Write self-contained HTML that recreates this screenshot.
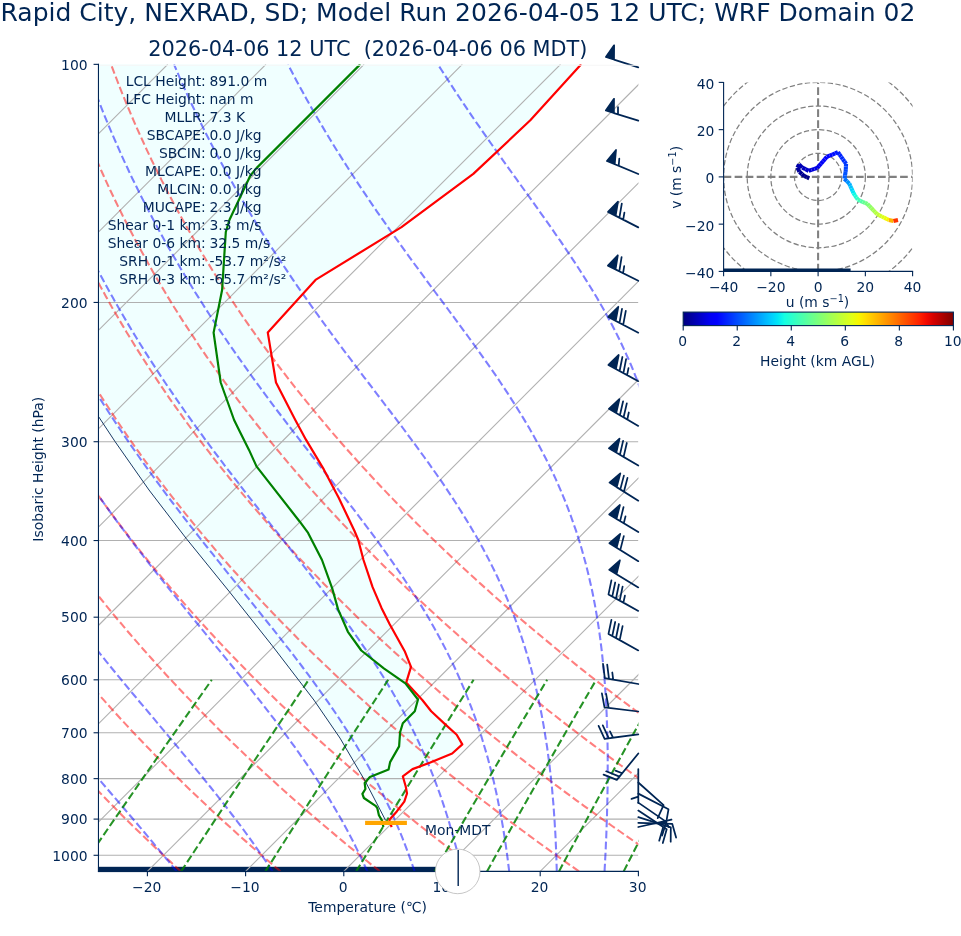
<!DOCTYPE html>
<html><head><meta charset="utf-8"><title>Skew-T Rapid City</title>
<style>
html,body{margin:0;padding:0;background:#fff}
svg{display:block;will-change:transform}
text{font-family:"DejaVu Sans","Liberation Sans",sans-serif;fill:#002554}
.g{stroke:#b0b0b0;stroke-width:1.1;fill:none}
.da{stroke:#ff0000;stroke-opacity:.5;stroke-width:2.08;stroke-dasharray:7.7 3.33;fill:none}
.ma{stroke:#0000ff;stroke-opacity:.5;stroke-width:2.08;stroke-dasharray:7.7 3.33;fill:none}
.mr{stroke:#008000;stroke-opacity:.85;stroke-width:2.08;stroke-dasharray:7.7 3.33;fill:none}
.b{stroke:#002554;stroke-width:1.75;fill:#002554;stroke-linejoin:round}
.tk{stroke:#002554;stroke-width:1.1;fill:none}
.t10{font-size:13.89px}
.ring{stroke:#808080;stroke-width:1.25;stroke-dasharray:5.3 2.4;fill:none}
.cross{stroke:#808080;stroke-width:2.08;stroke-dasharray:7.7 3.33;fill:none}
</style></head><body>
<svg width="961" height="936" viewBox="0 0 961 936">
<rect width="961" height="936" fill="#fff"/>
<defs>
<clipPath id="ax"><rect x="98.46" y="64.35" width="539.94" height="807.05"/></clipPath>
<clipPath id="hx"><rect x="723.6" y="82.4" width="189" height="188.9"/></clipPath>
<linearGradient id="jet" x1="0" x2="1" y1="0" y2="0">
<stop offset="0.000" stop-color="#000080"/>
<stop offset="0.025" stop-color="#00009c"/>
<stop offset="0.050" stop-color="#0000b9"/>
<stop offset="0.075" stop-color="#0000d6"/>
<stop offset="0.100" stop-color="#0000f3"/>
<stop offset="0.125" stop-color="#0000ff"/>
<stop offset="0.150" stop-color="#001aff"/>
<stop offset="0.175" stop-color="#0033ff"/>
<stop offset="0.200" stop-color="#004dff"/>
<stop offset="0.225" stop-color="#0066ff"/>
<stop offset="0.250" stop-color="#0080ff"/>
<stop offset="0.275" stop-color="#0099ff"/>
<stop offset="0.300" stop-color="#00b3ff"/>
<stop offset="0.325" stop-color="#00ccff"/>
<stop offset="0.350" stop-color="#00e6f7"/>
<stop offset="0.375" stop-color="#15ffe2"/>
<stop offset="0.400" stop-color="#29ffce"/>
<stop offset="0.425" stop-color="#3effb9"/>
<stop offset="0.450" stop-color="#52ffa5"/>
<stop offset="0.475" stop-color="#67ff90"/>
<stop offset="0.500" stop-color="#7bff7b"/>
<stop offset="0.525" stop-color="#90ff67"/>
<stop offset="0.550" stop-color="#a5ff52"/>
<stop offset="0.575" stop-color="#b9ff3e"/>
<stop offset="0.600" stop-color="#ceff29"/>
<stop offset="0.625" stop-color="#e2ff15"/>
<stop offset="0.650" stop-color="#f7f600"/>
<stop offset="0.675" stop-color="#ffde00"/>
<stop offset="0.700" stop-color="#ffc600"/>
<stop offset="0.725" stop-color="#ffaf00"/>
<stop offset="0.750" stop-color="#ff9700"/>
<stop offset="0.775" stop-color="#ff8000"/>
<stop offset="0.800" stop-color="#ff6800"/>
<stop offset="0.825" stop-color="#ff5000"/>
<stop offset="0.850" stop-color="#ff3900"/>
<stop offset="0.875" stop-color="#ff2100"/>
<stop offset="0.900" stop-color="#f30900"/>
<stop offset="0.925" stop-color="#d60000"/>
<stop offset="0.950" stop-color="#b90000"/>
<stop offset="0.975" stop-color="#9c0000"/>
<stop offset="1.000" stop-color="#800000"/>
</linearGradient>
</defs>

<rect x="97.96" y="866.8" width="347.5" height="5.3" fill="#002554"/>
<g clip-path="url(#ax)">
<path d="M60.0,64.3 L581.2,64.3 L580.3,65.3 L530.3,120.3 L473.3,173.9 L401.5,227.1 L315.5,279.9 L267.8,332.6 L276.0,382.5 L295.3,420.0 L305.8,439.4 L323.8,469.4 L338.7,497.8 L354.4,530.7 L358.2,539.7 L363.5,560.0 L372.5,586.9 L381.5,607.9 L389.7,624.3 L404.7,651.2 L411.0,666.9 L406.2,682.6 L422.3,700.0 L431.2,711.2 L444.7,723.9 L456.7,734.7 L462.3,744.4 L452.2,753.5 L429.7,762.8 L412.5,769.1 L402.8,776.3 L405.8,786.7 L407.0,793.5 L404.3,801.7 L396.8,811.4 L389.4,819.7 L389.4,819.7 L385.6,820.4 L365.4,781.5 L340.0,738.1 L313.9,700.0 L300.0,681.9 L272.4,645.9 L229.7,592.1 L186.0,538.2 L149.0,490.0 L115.0,441.5 L98.5,416.5 L60.0,380.0Z" fill="#f0ffff"/>
<path d="M98.5,302.45 H638.4" class="g"/>
<path d="M98.5,441.72 H638.4" class="g"/>
<path d="M98.5,540.54 H638.4" class="g"/>
<path d="M98.5,617.19 H638.4" class="g"/>
<path d="M98.5,679.82 H638.4" class="g"/>
<path d="M98.5,732.77 H638.4" class="g"/>
<path d="M98.5,778.64 H638.4" class="g"/>
<path d="M98.5,819.10 H638.4" class="g"/>
<path d="M98.5,855.29 H638.4" class="g"/>
<path d="M-1129.20,871.40 L-323.28,64.35" class="g"/>
<path d="M-1031.00,871.40 L-225.08,64.35" class="g"/>
<path d="M-932.80,871.40 L-126.88,64.35" class="g"/>
<path d="M-834.60,871.40 L-28.68,64.35" class="g"/>
<path d="M-736.40,871.40 L69.52,64.35" class="g"/>
<path d="M-638.20,871.40 L167.72,64.35" class="g"/>
<path d="M-540.00,871.40 L265.92,64.35" class="g"/>
<path d="M-441.80,871.40 L364.12,64.35" class="g"/>
<path d="M-343.60,871.40 L462.32,64.35" class="g"/>
<path d="M-245.40,871.40 L560.52,64.35" class="g"/>
<path d="M-147.20,871.40 L658.72,64.35" class="g"/>
<path d="M-49.00,871.40 L756.92,64.35" class="g"/>
<path d="M49.20,871.40 L855.12,64.35" class="g"/>
<path d="M147.40,871.40 L953.32,64.35" class="g"/>
<path d="M245.60,871.40 L1051.52,64.35" class="g"/>
<path d="M343.80,871.40 L1149.72,64.35" class="g"/>
<path d="M442.00,871.40 L1247.92,64.35" class="g"/>
<path d="M540.20,871.40 L1346.12,64.35" class="g"/>
<path d="M638.40,871.40 L1444.32,64.35" class="g"/>
<path d="M-18.1,871.4 L-22.8,866.4 L-27.4,861.3 L-32.0,856.3 L-36.6,851.2 L-41.1,846.2 L-45.6,841.1 L-50.0,836.1 L-54.4,831.0 L-58.8,826.0 L-63.1,821.0 L-67.4,815.9 L-71.6,810.9 L-75.8,805.8 L-80.0,800.8 L-84.1,795.7 L-88.2,790.7 L-92.2,785.7 L-96.2,780.6 L-100.2,775.6 L-104.1,770.5 L-108.0,765.5 L-111.9,760.4 L-115.7,755.4 L-119.5,750.3 L-123.2,745.3 L-126.9,740.3 L-130.6,735.2 L-134.3,730.2 L-137.9,725.1 L-141.4,720.1 L-144.9,715.0 L-148.4,710.0 L-151.9,704.9 L-155.3,699.9 L-158.7,694.9 L-162.1,689.8 L-165.4,684.8 L-168.7,679.7 L-171.9,674.7 L-175.1,669.6 L-178.3,664.6 L-181.4,659.5 L-184.5,654.5 L-187.6,649.5 L-190.6,644.4 L-193.7,639.4 L-196.6,634.3 L-199.6,629.3 L-202.5,624.2 L-205.3,619.2 L-208.2,614.2 L-211.0,609.1 L-213.8,604.1 L-216.5,599.0 L-219.2,594.0 L-221.9,588.9 L-224.5,583.9 L-227.1,578.8 L-229.7,573.8 L-232.3,568.8 L-234.8,563.7 L-237.3,558.7 L-239.7,553.6 L-242.1,548.6 L-244.5,543.5 L-246.9,538.5 L-249.2,533.4 L-251.5,528.4 L-253.8,523.4 L-256.0,518.3 L-258.2,513.3 L-260.4,508.2 L-262.5,503.2 L-264.7,498.1 L-266.7,493.1 L-268.8,488.1 L-270.8,483.0 L-272.8,478.0 L-274.8,472.9 L-276.7,467.9 L-278.6,462.8 L-280.5,457.8 L-282.4,452.7 L-284.2,447.7 L-286.0,442.7 L-287.7,437.6 L-289.5,432.6 L-291.2,427.5 L-292.9,422.5 L-294.5,417.4 L-296.1,412.4 L-297.7,407.3 L-299.3,402.3 L-300.8,397.3 L-302.3,392.2 L-303.8,387.2 L-305.3,382.1 L-306.7,377.1 L-308.1,372.0 L-309.5,367.0 L-310.8,361.9 L-312.2,356.9 L-313.5,351.9 L-314.7,346.8 L-316.0,341.8 L-317.2,336.7 L-318.4,331.7 L-319.5,326.6 L-320.7,321.6 L-321.8,316.6 L-322.9,311.5 L-323.9,306.5 L-325.0,301.4 L-326.0,296.4 L-327.0,291.3 L-327.9,286.3 L-328.9,281.2 L-329.8,276.2 L-330.7,271.2 L-331.5,266.1 L-332.4,261.1 L-333.2,256.0 L-333.9,251.0 L-334.7,245.9 L-335.4,240.9 L-336.2,235.8 L-336.8,230.8 L-337.5,225.8 L-338.2,220.7 L-338.8,215.7 L-339.4,210.6 L-339.9,205.6 L-340.5,200.5 L-341.0,195.5 L-341.5,190.5 L-342.0,185.4 L-342.4,180.4 L-342.9,175.3 L-343.3,170.3 L-343.7,165.2 L-344.0,160.2 L-344.4,155.1 L-344.7,150.1 L-345.0,145.1 L-345.2,140.0 L-345.5,135.0 L-345.7,129.9 L-345.9,124.9 L-346.1,119.8 L-346.3,114.8 L-346.4,109.7 L-346.5,104.7 L-346.6,99.7 L-346.7,94.6 L-346.8,89.6 L-346.8,84.5 L-346.8,79.5 L-346.8,74.4 L-346.8,69.4 L-346.7,64.4" class="da"/>
<path d="M81.4,871.4 L76.3,866.4 L71.3,861.3 L66.3,856.3 L61.3,851.2 L56.4,846.2 L51.5,841.1 L46.6,836.1 L41.8,831.0 L37.1,826.0 L32.4,821.0 L27.7,815.9 L23.0,810.9 L18.4,805.8 L13.9,800.8 L9.4,795.7 L4.9,790.7 L0.5,785.7 L-3.9,780.6 L-8.3,775.6 L-12.6,770.5 L-16.9,765.5 L-21.1,760.4 L-25.3,755.4 L-29.5,750.3 L-33.6,745.3 L-37.7,740.3 L-41.7,735.2 L-45.8,730.2 L-49.7,725.1 L-53.7,720.1 L-57.6,715.0 L-61.4,710.0 L-65.2,704.9 L-69.0,699.9 L-72.8,694.9 L-76.5,689.8 L-80.2,684.8 L-83.8,679.7 L-87.4,674.7 L-91.0,669.6 L-94.5,664.6 L-98.0,659.5 L-101.4,654.5 L-104.9,649.5 L-108.2,644.4 L-111.6,639.4 L-114.9,634.3 L-118.2,629.3 L-121.4,624.2 L-124.7,619.2 L-127.8,614.2 L-131.0,609.1 L-134.1,604.1 L-137.2,599.0 L-140.2,594.0 L-143.2,588.9 L-146.2,583.9 L-149.1,578.8 L-152.0,573.8 L-154.9,568.8 L-157.7,563.7 L-160.5,558.7 L-163.3,553.6 L-166.1,548.6 L-168.8,543.5 L-171.4,538.5 L-174.1,533.4 L-176.7,528.4 L-179.3,523.4 L-181.8,518.3 L-184.3,513.3 L-186.8,508.2 L-189.3,503.2 L-191.7,498.1 L-194.1,493.1 L-196.4,488.1 L-198.8,483.0 L-201.1,478.0 L-203.3,472.9 L-205.6,467.9 L-207.8,462.8 L-210.0,457.8 L-212.1,452.7 L-214.2,447.7 L-216.3,442.7 L-218.4,437.6 L-220.4,432.6 L-222.4,427.5 L-224.3,422.5 L-226.3,417.4 L-228.2,412.4 L-230.1,407.3 L-231.9,402.3 L-233.7,397.3 L-235.5,392.2 L-237.3,387.2 L-239.0,382.1 L-240.7,377.1 L-242.4,372.0 L-244.1,367.0 L-245.7,361.9 L-247.3,356.9 L-248.9,351.9 L-250.4,346.8 L-251.9,341.8 L-253.4,336.7 L-254.8,331.7 L-256.3,326.6 L-257.7,321.6 L-259.1,316.6 L-260.4,311.5 L-261.7,306.5 L-263.0,301.4 L-264.3,296.4 L-265.5,291.3 L-266.8,286.3 L-267.9,281.2 L-269.1,276.2 L-270.2,271.2 L-271.4,266.1 L-272.4,261.1 L-273.5,256.0 L-274.5,251.0 L-275.6,245.9 L-276.5,240.9 L-277.5,235.8 L-278.4,230.8 L-279.3,225.8 L-280.2,220.7 L-281.1,215.7 L-281.9,210.6 L-282.7,205.6 L-283.5,200.5 L-284.3,195.5 L-285.0,190.5 L-285.7,185.4 L-286.4,180.4 L-287.1,175.3 L-287.7,170.3 L-288.3,165.2 L-288.9,160.2 L-289.5,155.1 L-290.1,150.1 L-290.6,145.1 L-291.1,140.0 L-291.6,135.0 L-292.0,129.9 L-292.4,124.9 L-292.8,119.8 L-293.2,114.8 L-293.6,109.7 L-293.9,104.7 L-294.3,99.7 L-294.5,94.6 L-294.8,89.6 L-295.1,84.5 L-295.3,79.5 L-295.5,74.4 L-295.7,69.4 L-295.9,64.4" class="da"/>
<path d="M180.9,871.4 L175.4,866.4 L170.0,861.3 L164.5,856.3 L159.2,851.2 L153.8,846.2 L148.5,841.1 L143.3,836.1 L138.1,831.0 L132.9,826.0 L127.8,821.0 L122.7,815.9 L117.7,810.9 L112.7,805.8 L107.7,800.8 L102.8,795.7 L98.0,790.7 L93.1,785.7 L88.4,780.6 L83.6,775.6 L78.9,770.5 L74.2,765.5 L69.6,760.4 L65.0,755.4 L60.5,750.3 L56.0,745.3 L51.5,740.3 L47.1,735.2 L42.7,730.2 L38.4,725.1 L34.1,720.1 L29.8,715.0 L25.6,710.0 L21.4,704.9 L17.3,699.9 L13.2,694.9 L9.1,689.8 L5.1,684.8 L1.1,679.7 L-2.9,674.7 L-6.8,669.6 L-10.7,664.6 L-14.5,659.5 L-18.3,654.5 L-22.1,649.5 L-25.8,644.4 L-29.5,639.4 L-33.2,634.3 L-36.8,629.3 L-40.4,624.2 L-44.0,619.2 L-47.5,614.2 L-51.0,609.1 L-54.4,604.1 L-57.8,599.0 L-61.2,594.0 L-64.5,588.9 L-67.8,583.9 L-71.1,578.8 L-74.3,573.8 L-77.5,568.8 L-80.7,563.7 L-83.8,558.7 L-86.9,553.6 L-90.0,548.6 L-93.0,543.5 L-96.0,538.5 L-98.9,533.4 L-101.9,528.4 L-104.8,523.4 L-107.6,518.3 L-110.5,513.3 L-113.2,508.2 L-116.0,503.2 L-118.7,498.1 L-121.4,493.1 L-124.1,488.1 L-126.7,483.0 L-129.3,478.0 L-131.9,472.9 L-134.4,467.9 L-136.9,462.8 L-139.4,457.8 L-141.8,452.7 L-144.3,447.7 L-146.6,442.7 L-149.0,437.6 L-151.3,432.6 L-153.6,427.5 L-155.8,422.5 L-158.1,417.4 L-160.2,412.4 L-162.4,407.3 L-164.5,402.3 L-166.6,397.3 L-168.7,392.2 L-170.8,387.2 L-172.8,382.1 L-174.8,377.1 L-176.7,372.0 L-178.6,367.0 L-180.5,361.9 L-182.4,356.9 L-184.2,351.9 L-186.1,346.8 L-187.8,341.8 L-189.6,336.7 L-191.3,331.7 L-193.0,326.6 L-194.7,321.6 L-196.3,316.6 L-197.9,311.5 L-199.5,306.5 L-201.1,301.4 L-202.6,296.4 L-204.1,291.3 L-205.6,286.3 L-207.0,281.2 L-208.4,276.2 L-209.8,271.2 L-211.2,266.1 L-212.5,261.1 L-213.9,256.0 L-215.1,251.0 L-216.4,245.9 L-217.6,240.9 L-218.8,235.8 L-220.0,230.8 L-221.2,225.8 L-222.3,220.7 L-223.4,215.7 L-224.5,210.6 L-225.5,205.6 L-226.6,200.5 L-227.6,195.5 L-228.5,190.5 L-229.5,185.4 L-230.4,180.4 L-231.3,175.3 L-232.2,170.3 L-233.0,165.2 L-233.9,160.2 L-234.7,155.1 L-235.4,150.1 L-236.2,145.1 L-236.9,140.0 L-237.6,135.0 L-238.3,129.9 L-238.9,124.9 L-239.6,119.8 L-240.2,114.8 L-240.8,109.7 L-241.3,104.7 L-241.9,99.7 L-242.4,94.6 L-242.9,89.6 L-243.3,84.5 L-243.8,79.5 L-244.2,74.4 L-244.6,69.4 L-245.0,64.4" class="da"/>
<path d="M280.5,871.4 L274.5,866.4 L268.7,861.3 L262.8,856.3 L257.0,851.2 L251.3,846.2 L245.6,841.1 L239.9,836.1 L234.3,831.0 L228.8,826.0 L223.2,821.0 L217.8,815.9 L212.3,810.9 L206.9,805.8 L201.6,800.8 L196.3,795.7 L191.0,790.7 L185.8,785.7 L180.6,780.6 L175.5,775.6 L170.4,770.5 L165.4,765.5 L160.4,760.4 L155.4,755.4 L150.5,750.3 L145.6,745.3 L140.8,740.3 L136.0,735.2 L131.2,730.2 L126.5,725.1 L121.8,720.1 L117.2,715.0 L112.6,710.0 L108.1,704.9 L103.6,699.9 L99.1,694.9 L94.7,689.8 L90.3,684.8 L85.9,679.7 L81.6,674.7 L77.3,669.6 L73.1,664.6 L68.9,659.5 L64.8,654.5 L60.6,649.5 L56.6,644.4 L52.5,639.4 L48.5,634.3 L44.5,629.3 L40.6,624.2 L36.7,619.2 L32.9,614.2 L29.1,609.1 L25.3,604.1 L21.5,599.0 L17.8,594.0 L14.2,588.9 L10.5,583.9 L6.9,578.8 L3.4,573.8 L-0.1,568.8 L-3.6,563.7 L-7.1,558.7 L-10.5,553.6 L-13.9,548.6 L-17.2,543.5 L-20.5,538.5 L-23.8,533.4 L-27.0,528.4 L-30.3,523.4 L-33.4,518.3 L-36.6,513.3 L-39.7,508.2 L-42.7,503.2 L-45.8,498.1 L-48.8,493.1 L-51.7,488.1 L-54.7,483.0 L-57.6,478.0 L-60.4,472.9 L-63.3,467.9 L-66.1,462.8 L-68.8,457.8 L-71.6,452.7 L-74.3,447.7 L-77.0,442.7 L-79.6,437.6 L-82.2,432.6 L-84.8,427.5 L-87.3,422.5 L-89.8,417.4 L-92.3,412.4 L-94.8,407.3 L-97.2,402.3 L-99.6,397.3 L-101.9,392.2 L-104.2,387.2 L-106.5,382.1 L-108.8,377.1 L-111.0,372.0 L-113.2,367.0 L-115.4,361.9 L-117.5,356.9 L-119.6,351.9 L-121.7,346.8 L-123.8,341.8 L-125.8,336.7 L-127.8,331.7 L-129.7,326.6 L-131.7,321.6 L-133.6,316.6 L-135.5,311.5 L-137.3,306.5 L-139.1,301.4 L-140.9,296.4 L-142.7,291.3 L-144.4,286.3 L-146.1,281.2 L-147.8,276.2 L-149.4,271.2 L-151.0,266.1 L-152.6,261.1 L-154.2,256.0 L-155.7,251.0 L-157.2,245.9 L-158.7,240.9 L-160.2,235.8 L-161.6,230.8 L-163.0,225.8 L-164.4,220.7 L-165.7,215.7 L-167.0,210.6 L-168.3,205.6 L-169.6,200.5 L-170.8,195.5 L-172.0,190.5 L-173.2,185.4 L-174.4,180.4 L-175.5,175.3 L-176.6,170.3 L-177.7,165.2 L-178.8,160.2 L-179.8,155.1 L-180.8,150.1 L-181.8,145.1 L-182.7,140.0 L-183.7,135.0 L-184.6,129.9 L-185.5,124.9 L-186.3,119.8 L-187.1,114.8 L-188.0,109.7 L-188.7,104.7 L-189.5,99.7 L-190.2,94.6 L-190.9,89.6 L-191.6,84.5 L-192.3,79.5 L-192.9,74.4 L-193.5,69.4 L-194.1,64.4" class="da"/>
<path d="M380.0,871.4 L373.6,866.4 L367.3,861.3 L361.1,856.3 L354.9,851.2 L348.7,846.2 L342.6,841.1 L336.6,836.1 L330.6,831.0 L324.6,826.0 L318.7,821.0 L312.8,815.9 L307.0,810.9 L301.2,805.8 L295.4,800.8 L289.7,795.7 L284.1,790.7 L278.5,785.7 L272.9,780.6 L267.4,775.6 L261.9,770.5 L256.5,765.5 L251.1,760.4 L245.8,755.4 L240.5,750.3 L235.2,745.3 L230.0,740.3 L224.9,735.2 L219.7,730.2 L214.6,725.1 L209.6,720.1 L204.6,715.0 L199.6,710.0 L194.7,704.9 L189.9,699.9 L185.0,694.9 L180.2,689.8 L175.5,684.8 L170.8,679.7 L166.1,674.7 L161.5,669.6 L156.9,664.6 L152.4,659.5 L147.9,654.5 L143.4,649.5 L139.0,644.4 L134.6,639.4 L130.2,634.3 L125.9,629.3 L121.7,624.2 L117.4,619.2 L113.2,614.2 L109.1,609.1 L105.0,604.1 L100.9,599.0 L96.9,594.0 L92.9,588.9 L88.9,583.9 L85.0,578.8 L81.1,573.8 L77.2,568.8 L73.4,563.7 L69.7,558.7 L65.9,553.6 L62.2,548.6 L58.5,543.5 L54.9,538.5 L51.3,533.4 L47.8,528.4 L44.3,523.4 L40.8,518.3 L37.3,513.3 L33.9,508.2 L30.5,503.2 L27.2,498.1 L23.9,493.1 L20.6,488.1 L17.4,483.0 L14.2,478.0 L11.0,472.9 L7.9,467.9 L4.8,462.8 L1.7,457.8 L-1.3,452.7 L-4.3,447.7 L-7.3,442.7 L-10.2,437.6 L-13.1,432.6 L-16.0,427.5 L-18.8,422.5 L-21.6,417.4 L-24.4,412.4 L-27.1,407.3 L-29.8,402.3 L-32.5,397.3 L-35.1,392.2 L-37.7,387.2 L-40.3,382.1 L-42.8,377.1 L-45.3,372.0 L-47.8,367.0 L-50.2,361.9 L-52.7,356.9 L-55.0,351.9 L-57.4,346.8 L-59.7,341.8 L-62.0,336.7 L-64.3,331.7 L-66.5,326.6 L-68.7,321.6 L-70.9,316.6 L-73.0,311.5 L-75.1,306.5 L-77.2,301.4 L-79.2,296.4 L-81.2,291.3 L-83.2,286.3 L-85.2,281.2 L-87.1,276.2 L-89.0,271.2 L-90.9,266.1 L-92.7,261.1 L-94.5,256.0 L-96.3,251.0 L-98.1,245.9 L-99.8,240.9 L-101.5,235.8 L-103.2,230.8 L-104.8,225.8 L-106.4,220.7 L-108.0,215.7 L-109.6,210.6 L-111.1,205.6 L-112.6,200.5 L-114.1,195.5 L-115.5,190.5 L-117.0,185.4 L-118.4,180.4 L-119.7,175.3 L-121.1,170.3 L-122.4,165.2 L-123.7,160.2 L-124.9,155.1 L-126.2,150.1 L-127.4,145.1 L-128.6,140.0 L-129.7,135.0 L-130.9,129.9 L-132.0,124.9 L-133.0,119.8 L-134.1,114.8 L-135.1,109.7 L-136.1,104.7 L-137.1,99.7 L-138.1,94.6 L-139.0,89.6 L-139.9,84.5 L-140.8,79.5 L-141.6,74.4 L-142.5,69.4 L-143.3,64.4" class="da"/>
<path d="M479.5,871.4 L472.8,866.4 L466.0,861.3 L459.4,856.3 L452.8,851.2 L446.2,846.2 L439.7,841.1 L433.2,836.1 L426.8,831.0 L420.4,826.0 L414.1,821.0 L407.8,815.9 L401.6,810.9 L395.4,805.8 L389.3,800.8 L383.2,795.7 L377.2,790.7 L371.2,785.7 L365.2,780.6 L359.3,775.6 L353.4,770.5 L347.6,765.5 L341.9,760.4 L336.2,755.4 L330.5,750.3 L324.8,745.3 L319.3,740.3 L313.7,735.2 L308.2,730.2 L302.8,725.1 L297.4,720.1 L292.0,715.0 L286.7,710.0 L281.4,704.9 L276.2,699.9 L271.0,694.9 L265.8,689.8 L260.7,684.8 L255.6,679.7 L250.6,674.7 L245.6,669.6 L240.7,664.6 L235.8,659.5 L231.0,654.5 L226.1,649.5 L221.4,644.4 L216.6,639.4 L211.9,634.3 L207.3,629.3 L202.7,624.2 L198.1,619.2 L193.6,614.2 L189.1,609.1 L184.7,604.1 L180.2,599.0 L175.9,594.0 L171.5,588.9 L167.3,583.9 L163.0,578.8 L158.8,573.8 L154.6,568.8 L150.5,563.7 L146.4,558.7 L142.3,553.6 L138.3,548.6 L134.3,543.5 L130.4,538.5 L126.5,533.4 L122.6,528.4 L118.8,523.4 L115.0,518.3 L111.2,513.3 L107.5,508.2 L103.8,503.2 L100.2,498.1 L96.5,493.1 L93.0,488.1 L89.4,483.0 L85.9,478.0 L82.5,472.9 L79.0,467.9 L75.6,462.8 L72.3,457.8 L68.9,452.7 L65.6,447.7 L62.4,442.7 L59.2,437.6 L56.0,432.6 L52.8,427.5 L49.7,422.5 L46.6,417.4 L43.6,412.4 L40.6,407.3 L37.6,402.3 L34.6,397.3 L31.7,392.2 L28.8,387.2 L26.0,382.1 L23.2,377.1 L20.4,372.0 L17.6,367.0 L14.9,361.9 L12.2,356.9 L9.6,351.9 L6.9,346.8 L4.4,341.8 L1.8,336.7 L-0.7,331.7 L-3.2,326.6 L-5.7,321.6 L-8.1,316.6 L-10.5,311.5 L-12.9,306.5 L-15.2,301.4 L-17.5,296.4 L-19.8,291.3 L-22.0,286.3 L-24.3,281.2 L-26.4,276.2 L-28.6,271.2 L-30.7,266.1 L-32.8,261.1 L-34.9,256.0 L-36.9,251.0 L-38.9,245.9 L-40.9,240.9 L-42.8,235.8 L-44.8,230.8 L-46.7,225.8 L-48.5,220.7 L-50.3,215.7 L-52.1,210.6 L-53.9,205.6 L-55.7,200.5 L-57.4,195.5 L-59.1,190.5 L-60.7,185.4 L-62.4,180.4 L-64.0,175.3 L-65.5,170.3 L-67.1,165.2 L-68.6,160.2 L-70.1,155.1 L-71.6,150.1 L-73.0,145.1 L-74.4,140.0 L-75.8,135.0 L-77.1,129.9 L-78.5,124.9 L-79.8,119.8 L-81.1,114.8 L-82.3,109.7 L-83.5,104.7 L-84.7,99.7 L-85.9,94.6 L-87.1,89.6 L-88.2,84.5 L-89.3,79.5 L-90.3,74.4 L-91.4,69.4 L-92.4,64.4" class="da"/>
<path d="M579.0,871.4 L571.9,866.4 L564.7,861.3 L557.7,856.3 L550.6,851.2 L543.7,846.2 L536.7,841.1 L529.9,836.1 L523.0,831.0 L516.3,826.0 L509.5,821.0 L502.9,815.9 L496.2,810.9 L489.7,805.8 L483.1,800.8 L476.6,795.7 L470.2,790.7 L463.8,785.7 L457.5,780.6 L451.2,775.6 L445.0,770.5 L438.8,765.5 L432.6,760.4 L426.5,755.4 L420.5,750.3 L414.5,745.3 L408.5,740.3 L402.6,735.2 L396.7,730.2 L390.9,725.1 L385.1,720.1 L379.4,715.0 L373.7,710.0 L368.0,704.9 L362.5,699.9 L356.9,694.9 L351.4,689.8 L345.9,684.8 L340.5,679.7 L335.1,674.7 L329.8,669.6 L324.5,664.6 L319.3,659.5 L314.0,654.5 L308.9,649.5 L303.8,644.4 L298.7,639.4 L293.7,634.3 L288.7,629.3 L283.7,624.2 L278.8,619.2 L273.9,614.2 L269.1,609.1 L264.3,604.1 L259.6,599.0 L254.9,594.0 L250.2,588.9 L245.6,583.9 L241.0,578.8 L236.5,573.8 L232.0,568.8 L227.5,563.7 L223.1,558.7 L218.7,553.6 L214.4,548.6 L210.1,543.5 L205.8,538.5 L201.6,533.4 L197.4,528.4 L193.3,523.4 L189.2,518.3 L185.1,513.3 L181.1,508.2 L177.1,503.2 L173.1,498.1 L169.2,493.1 L165.3,488.1 L161.5,483.0 L157.7,478.0 L153.9,472.9 L150.2,467.9 L146.5,462.8 L142.8,457.8 L139.2,452.7 L135.6,447.7 L132.1,442.7 L128.5,437.6 L125.1,432.6 L121.6,427.5 L118.2,422.5 L114.8,417.4 L111.5,412.4 L108.2,407.3 L104.9,402.3 L101.7,397.3 L98.5,392.2 L95.4,387.2 L92.2,382.1 L89.1,377.1 L86.1,372.0 L83.0,367.0 L80.1,361.9 L77.1,356.9 L74.2,351.9 L71.3,346.8 L68.4,341.8 L65.6,336.7 L62.8,331.7 L60.0,326.6 L57.3,321.6 L54.6,316.6 L52.0,311.5 L49.3,306.5 L46.7,301.4 L44.2,296.4 L41.6,291.3 L39.1,286.3 L36.7,281.2 L34.2,276.2 L31.8,271.2 L29.4,266.1 L27.1,261.1 L24.8,256.0 L22.5,251.0 L20.2,245.9 L18.0,240.9 L15.8,235.8 L13.7,230.8 L11.5,225.8 L9.4,220.7 L7.3,215.7 L5.3,210.6 L3.3,205.6 L1.3,200.5 L-0.6,195.5 L-2.6,190.5 L-4.5,185.4 L-6.3,180.4 L-8.2,175.3 L-10.0,170.3 L-11.8,165.2 L-13.5,160.2 L-15.2,155.1 L-16.9,150.1 L-18.6,145.1 L-20.2,140.0 L-21.8,135.0 L-23.4,129.9 L-25.0,124.9 L-26.5,119.8 L-28.0,114.8 L-29.5,109.7 L-30.9,104.7 L-32.4,99.7 L-33.7,94.6 L-35.1,89.6 L-36.4,84.5 L-37.8,79.5 L-39.0,74.4 L-40.3,69.4 L-41.5,64.4" class="da"/>
<path d="M678.6,871.4 L671.0,866.4 L663.4,861.3 L655.9,856.3 L648.5,851.2 L641.1,846.2 L633.8,841.1 L626.5,836.1 L619.3,831.0 L612.1,826.0 L605.0,821.0 L597.9,815.9 L590.9,810.9 L583.9,805.8 L577.0,800.8 L570.1,795.7 L563.3,790.7 L556.5,785.7 L549.8,780.6 L543.1,775.6 L536.5,770.5 L529.9,765.5 L523.4,760.4 L516.9,755.4 L510.5,750.3 L504.1,745.3 L497.7,740.3 L491.4,735.2 L485.2,730.2 L479.0,725.1 L472.9,720.1 L466.8,715.0 L460.7,710.0 L454.7,704.9 L448.7,699.9 L442.8,694.9 L437.0,689.8 L431.1,684.8 L425.4,679.7 L419.6,674.7 L413.9,669.6 L408.3,664.6 L402.7,659.5 L397.1,654.5 L391.6,649.5 L386.2,644.4 L380.7,639.4 L375.4,634.3 L370.0,629.3 L364.7,624.2 L359.5,619.2 L354.3,614.2 L349.1,609.1 L344.0,604.1 L338.9,599.0 L333.9,594.0 L328.9,588.9 L324.0,583.9 L319.1,578.8 L314.2,573.8 L309.4,568.8 L304.6,563.7 L299.8,558.7 L295.1,553.6 L290.5,548.6 L285.9,543.5 L281.3,538.5 L276.7,533.4 L272.2,528.4 L267.8,523.4 L263.4,518.3 L259.0,513.3 L254.6,508.2 L250.3,503.2 L246.1,498.1 L241.9,493.1 L237.7,488.1 L233.5,483.0 L229.4,478.0 L225.4,472.9 L221.3,467.9 L217.3,462.8 L213.4,457.8 L209.5,452.7 L205.6,447.7 L201.7,442.7 L197.9,437.6 L194.2,432.6 L190.4,427.5 L186.7,422.5 L183.1,417.4 L179.5,412.4 L175.9,407.3 L172.3,402.3 L168.8,397.3 L165.3,392.2 L161.9,387.2 L158.5,382.1 L155.1,377.1 L151.8,372.0 L148.5,367.0 L145.2,361.9 L142.0,356.9 L138.8,351.9 L135.6,346.8 L132.5,341.8 L129.4,336.7 L126.3,331.7 L123.3,326.6 L120.3,321.6 L117.4,316.6 L114.4,311.5 L111.5,306.5 L108.7,301.4 L105.9,296.4 L103.1,291.3 L100.3,286.3 L97.6,281.2 L94.9,276.2 L92.2,271.2 L89.6,266.1 L87.0,261.1 L84.4,256.0 L81.9,251.0 L79.4,245.9 L76.9,240.9 L74.5,235.8 L72.1,230.8 L69.7,225.8 L67.3,220.7 L65.0,215.7 L62.7,210.6 L60.5,205.6 L58.3,200.5 L56.1,195.5 L53.9,190.5 L51.8,185.4 L49.7,180.4 L47.6,175.3 L45.6,170.3 L43.6,165.2 L41.6,160.2 L39.6,155.1 L37.7,150.1 L35.8,145.1 L33.9,140.0 L32.1,135.0 L30.3,129.9 L28.5,124.9 L26.8,119.8 L25.0,114.8 L23.3,109.7 L21.7,104.7 L20.0,99.7 L18.4,94.6 L16.8,89.6 L15.3,84.5 L13.8,79.5 L12.3,74.4 L10.8,69.4 L9.3,64.4" class="da"/>
<path d="M778.1,871.4 L770.1,866.4 L762.1,861.3 L754.2,856.3 L746.4,851.2 L738.6,846.2 L730.8,841.1 L723.2,836.1 L715.5,831.0 L707.9,826.0 L700.4,821.0 L692.9,815.9 L685.5,810.9 L678.1,805.8 L670.8,800.8 L663.6,795.7 L656.3,790.7 L649.2,785.7 L642.1,780.6 L635.0,775.6 L628.0,770.5 L621.0,765.5 L614.1,760.4 L607.3,755.4 L600.5,750.3 L593.7,745.3 L587.0,740.3 L580.3,735.2 L573.7,730.2 L567.1,725.1 L560.6,720.1 L554.2,715.0 L547.7,710.0 L541.4,704.9 L535.0,699.9 L528.8,694.9 L522.5,689.8 L516.4,684.8 L510.2,679.7 L504.1,674.7 L498.1,669.6 L492.1,664.6 L486.1,659.5 L480.2,654.5 L474.4,649.5 L468.6,644.4 L462.8,639.4 L457.1,634.3 L451.4,629.3 L445.8,624.2 L440.2,619.2 L434.7,614.2 L429.2,609.1 L423.7,604.1 L418.3,599.0 L412.9,594.0 L407.6,588.9 L402.3,583.9 L397.1,578.8 L391.9,573.8 L386.7,568.8 L381.6,563.7 L376.6,558.7 L371.6,553.6 L366.6,548.6 L361.6,543.5 L356.7,538.5 L351.9,533.4 L347.1,528.4 L342.3,523.4 L337.6,518.3 L332.9,513.3 L328.2,508.2 L323.6,503.2 L319.0,498.1 L314.5,493.1 L310.0,488.1 L305.6,483.0 L301.2,478.0 L296.8,472.9 L292.5,467.9 L288.2,462.8 L283.9,457.8 L279.7,452.7 L275.5,447.7 L271.4,442.7 L267.3,437.6 L263.3,432.6 L259.2,427.5 L255.2,422.5 L251.3,417.4 L247.4,412.4 L243.5,407.3 L239.7,402.3 L235.9,397.3 L232.1,392.2 L228.4,387.2 L224.7,382.1 L221.1,377.1 L217.5,372.0 L213.9,367.0 L210.4,361.9 L206.8,356.9 L203.4,351.9 L199.9,346.8 L196.6,341.8 L193.2,336.7 L189.9,331.7 L186.6,326.6 L183.3,321.6 L180.1,316.6 L176.9,311.5 L173.7,306.5 L170.6,301.4 L167.5,296.4 L164.5,291.3 L161.5,286.3 L158.5,281.2 L155.5,276.2 L152.6,271.2 L149.7,266.1 L146.9,261.1 L144.1,256.0 L141.3,251.0 L138.5,245.9 L135.8,240.9 L133.1,235.8 L130.5,230.8 L127.9,225.8 L125.3,220.7 L122.7,215.7 L120.2,210.6 L117.7,205.6 L115.2,200.5 L112.8,195.5 L110.4,190.5 L108.0,185.4 L105.7,180.4 L103.4,175.3 L101.1,170.3 L98.9,165.2 L96.7,160.2 L94.5,155.1 L92.3,150.1 L90.2,145.1 L88.1,140.0 L86.0,135.0 L84.0,129.9 L82.0,124.9 L80.0,119.8 L78.1,114.8 L76.2,109.7 L74.3,104.7 L72.4,99.7 L70.6,94.6 L68.8,89.6 L67.0,84.5 L65.3,79.5 L63.5,74.4 L61.9,69.4 L60.2,64.4" class="da"/>
<path d="M877.6,871.4 L869.2,866.4 L860.8,861.3 L852.5,856.3 L844.2,851.2 L836.0,846.2 L827.9,841.1 L819.8,836.1 L811.8,831.0 L803.8,826.0 L795.8,821.0 L788.0,815.9 L780.2,810.9 L772.4,805.8 L764.7,800.8 L757.0,795.7 L749.4,790.7 L741.9,785.7 L734.4,780.6 L726.9,775.6 L719.5,770.5 L712.2,765.5 L704.9,760.4 L697.6,755.4 L690.4,750.3 L683.3,745.3 L676.2,740.3 L669.2,735.2 L662.2,730.2 L655.3,725.1 L648.4,720.1 L641.5,715.0 L634.8,710.0 L628.0,704.9 L621.3,699.9 L614.7,694.9 L608.1,689.8 L601.6,684.8 L595.1,679.7 L588.6,674.7 L582.2,669.6 L575.9,664.6 L569.6,659.5 L563.3,654.5 L557.1,649.5 L551.0,644.4 L544.9,639.4 L538.8,634.3 L532.8,629.3 L526.8,624.2 L520.9,619.2 L515.0,614.2 L509.2,609.1 L503.4,604.1 L497.6,599.0 L491.9,594.0 L486.3,588.9 L480.7,583.9 L475.1,578.8 L469.6,573.8 L464.1,568.8 L458.7,563.7 L453.3,558.7 L448.0,553.6 L442.7,548.6 L437.4,543.5 L432.2,538.5 L427.0,533.4 L421.9,528.4 L416.8,523.4 L411.8,518.3 L406.8,513.3 L401.8,508.2 L396.9,503.2 L392.0,498.1 L387.2,493.1 L382.4,488.1 L377.6,483.0 L372.9,478.0 L368.3,472.9 L363.6,467.9 L359.0,462.8 L354.5,457.8 L350.0,452.7 L345.5,447.7 L341.1,442.7 L336.7,437.6 L332.3,432.6 L328.0,427.5 L323.8,422.5 L319.5,417.4 L315.3,412.4 L311.2,407.3 L307.1,402.3 L303.0,397.3 L298.9,392.2 L294.9,387.2 L291.0,382.1 L287.1,377.1 L283.2,372.0 L279.3,367.0 L275.5,361.9 L271.7,356.9 L268.0,351.9 L264.3,346.8 L260.6,341.8 L257.0,336.7 L253.4,331.7 L249.8,326.6 L246.3,321.6 L242.8,316.6 L239.4,311.5 L236.0,306.5 L232.6,301.4 L229.2,296.4 L225.9,291.3 L222.7,286.3 L219.4,281.2 L216.2,276.2 L213.0,271.2 L209.9,266.1 L206.8,261.1 L203.7,256.0 L200.7,251.0 L197.7,245.9 L194.7,240.9 L191.8,235.8 L188.9,230.8 L186.0,225.8 L183.2,220.7 L180.4,215.7 L177.6,210.6 L174.9,205.6 L172.2,200.5 L169.5,195.5 L166.9,190.5 L164.3,185.4 L161.7,180.4 L159.2,175.3 L156.7,170.3 L154.2,165.2 L151.7,160.2 L149.3,155.1 L146.9,150.1 L144.6,145.1 L142.3,140.0 L140.0,135.0 L137.7,129.9 L135.5,124.9 L133.3,119.8 L131.1,114.8 L129.0,109.7 L126.9,104.7 L124.8,99.7 L122.7,94.6 L120.7,89.6 L118.7,84.5 L116.8,79.5 L114.8,74.4 L112.9,69.4 L111.1,64.4" class="da"/>
<path d="M-19.0,871.4 L-21.8,868.2 L-24.6,865.0 L-27.4,861.7 L-30.1,858.5 L-32.9,855.3 L-37.8,849.6 L-42.6,843.9 L-47.5,838.2 L-52.2,832.5 L-57.0,826.8 L-61.7,821.1 L-66.4,815.5 L-71.1,809.8 L-75.7,804.1 L-80.2,798.4 L-84.8,792.7 L-89.3,787.0 L-93.7,781.3 L-98.2,775.6 L-102.5,769.9 L-106.9,764.2 L-111.2,758.6 L-115.4,752.9 L-119.6,747.2 L-123.8,741.5 L-127.9,735.8 L-132.0,730.1 L-136.1,724.4 L-140.1,718.7 L-144.0,713.0 L-147.9,707.3 L-151.8,701.7 L-155.6,696.0 L-159.4,690.3 L-163.1,684.6 L-166.8,678.9 L-170.5,673.2 L-174.1,667.5 L-177.7,661.8 L-181.2,656.1 L-184.7,650.4 L-188.1,644.8 L-191.5,639.1 L-194.9,633.4 L-198.2,627.7 L-201.5,622.0 L-204.7,616.3 L-207.9,610.6 L-211.0,604.9 L-214.1,599.2 L-217.2,593.5 L-220.2,587.8 L-223.2,582.2 L-226.1,576.5 L-229.0,570.8 L-231.9,565.1 L-234.7,559.4 L-237.5,553.7 L-240.2,548.0 L-242.9,542.3 L-245.6,536.6 L-248.2,530.9 L-250.8,525.3 L-253.3,519.6 L-255.8,513.9 L-258.3,508.2 L-260.7,502.5 L-263.1,496.8 L-265.5,491.1 L-267.8,485.4 L-270.1,479.7 L-272.3,474.0 L-274.5,468.4 L-276.7,462.7 L-278.8,457.0 L-280.9,451.3 L-282.9,445.6 L-284.9,439.9 L-286.9,434.2 L-288.9,428.5 L-290.8,422.8 L-292.6,417.1 L-294.5,411.5 L-296.3,405.8 L-298.0,400.1 L-299.8,394.4 L-301.5,388.7 L-303.1,383.0 L-304.8,377.3 L-306.3,371.6 L-307.9,365.9 L-309.4,360.2 L-310.9,354.6 L-312.4,348.9 L-313.8,343.2 L-315.2,337.5 L-316.5,331.8 L-317.9,326.1 L-319.1,320.4 L-320.4,314.7 L-321.6,309.0 L-322.8,303.3 L-324.0,297.6 L-325.1,292.0 L-326.2,286.3 L-327.2,280.6 L-328.3,274.9 L-329.3,269.2 L-330.2,263.5 L-331.2,257.8 L-332.1,252.1 L-332.9,246.4 L-333.8,240.7 L-334.6,235.1 L-335.4,229.4 L-336.1,223.7 L-336.8,218.0 L-337.5,212.3 L-338.2,206.6 L-338.8,200.9 L-339.4,195.2 L-340.0,189.5 L-340.5,183.8 L-341.0,178.2 L-341.5,172.5 L-342.0,166.8 L-342.4,161.1 L-342.8,155.4 L-343.1,149.7 L-343.5,144.0 L-343.8,138.3 L-344.1,132.6 L-344.3,126.9 L-344.5,121.3 L-344.7,115.6 L-344.9,109.9 L-345.0,104.2 L-345.2,98.5 L-345.2,92.8 L-345.3,87.1 L-345.3,81.4 L-345.3,75.7 L-345.3,70.0 L-345.3,64.4" class="ma"/>
<path d="M79.4,871.4 L76.6,868.2 L73.7,865.0 L70.9,861.7 L68.1,858.5 L65.3,855.3 L60.3,849.6 L55.3,843.9 L50.4,838.2 L45.4,832.5 L40.5,826.8 L35.6,821.1 L30.7,815.5 L25.8,809.8 L20.9,804.1 L16.1,798.4 L11.2,792.7 L6.5,787.0 L1.7,781.3 L-3.0,775.6 L-7.8,769.9 L-12.4,764.2 L-17.1,758.6 L-21.7,752.9 L-26.2,747.2 L-30.8,741.5 L-35.3,735.8 L-39.7,730.1 L-44.1,724.4 L-48.5,718.7 L-52.9,713.0 L-57.2,707.3 L-61.4,701.7 L-65.6,696.0 L-69.8,690.3 L-73.9,684.6 L-78.0,678.9 L-82.1,673.2 L-86.1,667.5 L-90.0,661.8 L-94.0,656.1 L-97.8,650.4 L-101.7,644.8 L-105.5,639.1 L-109.2,633.4 L-112.9,627.7 L-116.6,622.0 L-120.2,616.3 L-123.8,610.6 L-127.3,604.9 L-130.8,599.2 L-134.3,593.5 L-137.7,587.8 L-141.1,582.2 L-144.4,576.5 L-147.7,570.8 L-150.9,565.1 L-154.1,559.4 L-157.3,553.7 L-160.4,548.0 L-163.5,542.3 L-166.5,536.6 L-169.5,530.9 L-172.4,525.3 L-175.3,519.6 L-178.2,513.9 L-181.0,508.2 L-183.8,502.5 L-186.6,496.8 L-189.3,491.1 L-192.0,485.4 L-194.6,479.7 L-197.2,474.0 L-199.8,468.4 L-202.3,462.7 L-204.7,457.0 L-207.2,451.3 L-209.6,445.6 L-211.9,439.9 L-214.3,434.2 L-216.6,428.5 L-218.8,422.8 L-221.0,417.1 L-223.2,411.5 L-225.3,405.8 L-227.4,400.1 L-229.5,394.4 L-231.5,388.7 L-233.5,383.0 L-235.5,377.3 L-237.4,371.6 L-239.3,365.9 L-241.1,360.2 L-242.9,354.6 L-244.7,348.9 L-246.4,343.2 L-248.1,337.5 L-249.8,331.8 L-251.4,326.1 L-253.0,320.4 L-254.6,314.7 L-256.1,309.0 L-257.6,303.3 L-259.1,297.6 L-260.5,292.0 L-261.9,286.3 L-263.3,280.6 L-264.6,274.9 L-265.9,269.2 L-267.2,263.5 L-268.4,257.8 L-269.6,252.1 L-270.8,246.4 L-271.9,240.7 L-273.0,235.1 L-274.1,229.4 L-275.1,223.7 L-276.1,218.0 L-277.1,212.3 L-278.1,206.6 L-279.0,200.9 L-279.9,195.2 L-280.7,189.5 L-281.5,183.8 L-282.3,178.2 L-283.1,172.5 L-283.8,166.8 L-284.5,161.1 L-285.2,155.4 L-285.8,149.7 L-286.4,144.0 L-287.0,138.3 L-287.5,132.6 L-288.0,126.9 L-288.5,121.3 L-289.0,115.6 L-289.4,109.9 L-289.8,104.2 L-290.2,98.5 L-290.6,92.8 L-290.9,87.1 L-291.2,81.4 L-291.4,75.7 L-291.6,70.0 L-291.9,64.4" class="ma"/>
<path d="M176.6,871.4 L174.0,868.2 L171.4,865.0 L168.8,861.7 L166.1,858.5 L163.5,855.3 L158.8,849.6 L154.0,843.9 L149.3,838.2 L144.5,832.5 L139.7,826.8 L134.8,821.1 L130.0,815.5 L125.1,809.8 L120.3,804.1 L115.4,798.4 L110.5,792.7 L105.6,787.0 L100.8,781.3 L95.9,775.6 L91.0,769.9 L86.2,764.2 L81.3,758.6 L76.5,752.9 L71.7,747.2 L66.9,741.5 L62.2,735.8 L57.4,730.1 L52.7,724.4 L48.0,718.7 L43.4,713.0 L38.7,707.3 L34.1,701.7 L29.6,696.0 L25.1,690.3 L20.6,684.6 L16.1,678.9 L11.7,673.2 L7.3,667.5 L3.0,661.8 L-1.3,656.1 L-5.6,650.4 L-9.8,644.8 L-14.0,639.1 L-18.2,633.4 L-22.3,627.7 L-26.3,622.0 L-30.4,616.3 L-34.3,610.6 L-38.3,604.9 L-42.2,599.2 L-46.0,593.5 L-49.8,587.8 L-53.6,582.2 L-57.3,576.5 L-61.0,570.8 L-64.7,565.1 L-68.3,559.4 L-71.8,553.7 L-75.3,548.0 L-78.8,542.3 L-82.2,536.6 L-85.6,530.9 L-88.9,525.3 L-92.3,519.6 L-95.5,513.9 L-98.7,508.2 L-101.9,502.5 L-105.0,496.8 L-108.1,491.1 L-111.2,485.4 L-114.2,479.7 L-117.2,474.0 L-120.1,468.4 L-123.0,462.7 L-125.8,457.0 L-128.7,451.3 L-131.4,445.6 L-134.2,439.9 L-136.8,434.2 L-139.5,428.5 L-142.1,422.8 L-144.7,417.1 L-147.2,411.5 L-149.7,405.8 L-152.2,400.1 L-154.6,394.4 L-157.0,388.7 L-159.3,383.0 L-161.6,377.3 L-163.9,371.6 L-166.1,365.9 L-168.3,360.2 L-170.5,354.6 L-172.6,348.9 L-174.7,343.2 L-176.7,337.5 L-178.7,331.8 L-180.7,326.1 L-182.6,320.4 L-184.5,314.7 L-186.4,309.0 L-188.2,303.3 L-190.0,297.6 L-191.8,292.0 L-193.5,286.3 L-195.2,280.6 L-196.8,274.9 L-198.4,269.2 L-200.0,263.5 L-201.6,257.8 L-203.1,252.1 L-204.6,246.4 L-206.0,240.7 L-207.4,235.1 L-208.8,229.4 L-210.1,223.7 L-211.5,218.0 L-212.7,212.3 L-214.0,206.6 L-215.2,200.9 L-216.4,195.2 L-217.5,189.5 L-218.7,183.8 L-219.7,178.2 L-220.8,172.5 L-221.8,166.8 L-222.8,161.1 L-223.8,155.4 L-224.7,149.7 L-225.6,144.0 L-226.4,138.3 L-227.3,132.6 L-228.1,126.9 L-228.9,121.3 L-229.6,115.6 L-230.3,109.9 L-231.0,104.2 L-231.6,98.5 L-232.3,92.8 L-232.9,87.1 L-233.4,81.4 L-234.0,75.7 L-234.5,70.0 L-234.9,64.4" class="ma"/>
<path d="M272.5,871.4 L270.4,868.2 L268.3,865.0 L266.1,861.7 L263.9,858.5 L261.7,855.3 L257.7,849.6 L253.7,843.9 L249.6,838.2 L245.5,832.5 L241.3,826.8 L237.0,821.1 L232.7,815.5 L228.3,809.8 L223.9,804.1 L219.4,798.4 L214.9,792.7 L210.4,787.0 L205.8,781.3 L201.2,775.6 L196.5,769.9 L191.9,764.2 L187.2,758.6 L182.4,752.9 L177.7,747.2 L173.0,741.5 L168.2,735.8 L163.4,730.1 L158.6,724.4 L153.9,718.7 L149.1,713.0 L144.3,707.3 L139.5,701.7 L134.8,696.0 L130.0,690.3 L125.3,684.6 L120.6,678.9 L115.9,673.2 L111.2,667.5 L106.6,661.8 L102.0,656.1 L97.4,650.4 L92.8,644.8 L88.3,639.1 L83.8,633.4 L79.3,627.7 L74.8,622.0 L70.4,616.3 L66.1,610.6 L61.7,604.9 L57.4,599.2 L53.2,593.5 L48.9,587.8 L44.8,582.2 L40.6,576.5 L36.5,570.8 L32.5,565.1 L28.4,559.4 L24.4,553.7 L20.5,548.0 L16.6,542.3 L12.8,536.6 L8.9,530.9 L5.2,525.3 L1.4,519.6 L-2.3,513.9 L-5.9,508.2 L-9.5,502.5 L-13.1,496.8 L-16.6,491.1 L-20.1,485.4 L-23.5,479.7 L-26.9,474.0 L-30.2,468.4 L-33.6,462.7 L-36.8,457.0 L-40.1,451.3 L-43.2,445.6 L-46.4,439.9 L-49.5,434.2 L-52.5,428.5 L-55.6,422.8 L-58.5,417.1 L-61.5,411.5 L-64.4,405.8 L-67.2,400.1 L-70.1,394.4 L-72.8,388.7 L-75.6,383.0 L-78.3,377.3 L-80.9,371.6 L-83.6,365.9 L-86.1,360.2 L-88.7,354.6 L-91.2,348.9 L-93.6,343.2 L-96.1,337.5 L-98.5,331.8 L-100.8,326.1 L-103.1,320.4 L-105.4,314.7 L-107.6,309.0 L-109.8,303.3 L-112.0,297.6 L-114.1,292.0 L-116.2,286.3 L-118.3,280.6 L-120.3,274.9 L-122.3,269.2 L-124.2,263.5 L-126.1,257.8 L-128.0,252.1 L-129.8,246.4 L-131.6,240.7 L-133.4,235.1 L-135.1,229.4 L-136.8,223.7 L-138.5,218.0 L-140.1,212.3 L-141.7,206.6 L-143.2,200.9 L-144.8,195.2 L-146.2,189.5 L-147.7,183.8 L-149.1,178.2 L-150.5,172.5 L-151.9,166.8 L-153.2,161.1 L-154.5,155.4 L-155.7,149.7 L-156.9,144.0 L-158.1,138.3 L-159.3,132.6 L-160.4,126.9 L-161.5,121.3 L-162.6,115.6 L-163.6,109.9 L-164.6,104.2 L-165.5,98.5 L-166.5,92.8 L-167.4,87.1 L-168.3,81.4 L-169.1,75.7 L-169.9,70.0 L-170.7,64.4" class="ma"/>
<path d="M367.4,871.4 L365.9,868.2 L364.4,865.0 L362.9,861.7 L361.4,858.5 L359.9,855.3 L357.1,849.6 L354.3,843.9 L351.4,838.2 L348.4,832.5 L345.3,826.8 L342.2,821.1 L339.0,815.5 L335.7,809.8 L332.3,804.1 L328.9,798.4 L325.4,792.7 L321.8,787.0 L318.2,781.3 L314.4,775.6 L310.7,769.9 L306.8,764.2 L302.9,758.6 L298.9,752.9 L294.9,747.2 L290.7,741.5 L286.6,735.8 L282.4,730.1 L278.1,724.4 L273.8,718.7 L269.4,713.0 L265.0,707.3 L260.6,701.7 L256.1,696.0 L251.6,690.3 L247.0,684.6 L242.4,678.9 L237.8,673.2 L233.2,667.5 L228.6,661.8 L224.0,656.1 L219.3,650.4 L214.6,644.8 L210.0,639.1 L205.3,633.4 L200.7,627.7 L196.0,622.0 L191.4,616.3 L186.7,610.6 L182.1,604.9 L177.5,599.2 L172.9,593.5 L168.3,587.8 L163.8,582.2 L159.3,576.5 L154.8,570.8 L150.3,565.1 L145.9,559.4 L141.5,553.7 L137.1,548.0 L132.7,542.3 L128.4,536.6 L124.2,530.9 L119.9,525.3 L115.7,519.6 L111.6,513.9 L107.4,508.2 L103.4,502.5 L99.3,496.8 L95.3,491.1 L91.3,485.4 L87.4,479.7 L83.5,474.0 L79.7,468.4 L75.9,462.7 L72.1,457.0 L68.4,451.3 L64.7,445.6 L61.1,439.9 L57.5,434.2 L53.9,428.5 L50.4,422.8 L46.9,417.1 L43.5,411.5 L40.1,405.8 L36.8,400.1 L33.5,394.4 L30.2,388.7 L27.0,383.0 L23.8,377.3 L20.7,371.6 L17.6,365.9 L14.5,360.2 L11.5,354.6 L8.5,348.9 L5.6,343.2 L2.7,337.5 L-0.1,331.8 L-3.0,326.1 L-5.7,320.4 L-8.5,314.7 L-11.2,309.0 L-13.8,303.3 L-16.4,297.6 L-19.0,292.0 L-21.5,286.3 L-24.0,280.6 L-26.5,274.9 L-28.9,269.2 L-31.3,263.5 L-33.6,257.8 L-36.0,252.1 L-38.2,246.4 L-40.5,240.7 L-42.6,235.1 L-44.8,229.4 L-46.9,223.7 L-49.0,218.0 L-51.1,212.3 L-53.1,206.6 L-55.0,200.9 L-57.0,195.2 L-58.9,189.5 L-60.7,183.8 L-62.6,178.2 L-64.4,172.5 L-66.1,166.8 L-67.9,161.1 L-69.6,155.4 L-71.2,149.7 L-72.8,144.0 L-74.4,138.3 L-76.0,132.6 L-77.5,126.9 L-79.0,121.3 L-80.4,115.6 L-81.8,109.9 L-83.2,104.2 L-84.6,98.5 L-85.9,92.8 L-87.2,87.1 L-88.4,81.4 L-89.6,75.7 L-90.8,70.0 L-92.0,64.4" class="ma"/>
<path d="M414.6,871.4 L413.5,868.2 L412.4,865.0 L411.3,861.7 L410.1,858.5 L409.0,855.3 L406.9,849.6 L404.7,843.9 L402.5,838.2 L400.2,832.5 L397.8,826.8 L395.4,821.1 L392.9,815.5 L390.4,809.8 L387.7,804.1 L385.0,798.4 L382.2,792.7 L379.4,787.0 L376.4,781.3 L373.4,775.6 L370.3,769.9 L367.2,764.2 L363.9,758.6 L360.6,752.9 L357.3,747.2 L353.8,741.5 L350.3,735.8 L346.7,730.1 L343.0,724.4 L339.3,718.7 L335.5,713.0 L331.6,707.3 L327.7,701.7 L323.7,696.0 L319.6,690.3 L315.5,684.6 L311.3,678.9 L307.1,673.2 L302.8,667.5 L298.5,661.8 L294.2,656.1 L289.8,650.4 L285.3,644.8 L280.9,639.1 L276.4,633.4 L271.9,627.7 L267.3,622.0 L262.8,616.3 L258.2,610.6 L253.6,604.9 L249.0,599.2 L244.4,593.5 L239.8,587.8 L235.2,582.2 L230.6,576.5 L226.0,570.8 L221.5,565.1 L216.9,559.4 L212.4,553.7 L207.8,548.0 L203.3,542.3 L198.8,536.6 L194.4,530.9 L189.9,525.3 L185.5,519.6 L181.1,513.9 L176.8,508.2 L172.4,502.5 L168.1,496.8 L163.9,491.1 L159.7,485.4 L155.5,479.7 L151.3,474.0 L147.2,468.4 L143.1,462.7 L139.1,457.0 L135.1,451.3 L131.1,445.6 L127.2,439.9 L123.3,434.2 L119.5,428.5 L115.7,422.8 L111.9,417.1 L108.2,411.5 L104.5,405.8 L100.9,400.1 L97.3,394.4 L93.7,388.7 L90.2,383.0 L86.8,377.3 L83.3,371.6 L80.0,365.9 L76.6,360.2 L73.3,354.6 L70.0,348.9 L66.8,343.2 L63.6,337.5 L60.5,331.8 L57.4,326.1 L54.4,320.4 L51.3,314.7 L48.4,309.0 L45.4,303.3 L42.5,297.6 L39.7,292.0 L36.9,286.3 L34.1,280.6 L31.4,274.9 L28.7,269.2 L26.0,263.5 L23.4,257.8 L20.8,252.1 L18.3,246.4 L15.8,240.7 L13.3,235.1 L10.9,229.4 L8.5,223.7 L6.2,218.0 L3.9,212.3 L1.6,206.6 L-0.6,200.9 L-2.8,195.2 L-5.0,189.5 L-7.1,183.8 L-9.2,178.2 L-11.2,172.5 L-13.2,166.8 L-15.2,161.1 L-17.2,155.4 L-19.1,149.7 L-20.9,144.0 L-22.8,138.3 L-24.6,132.6 L-26.3,126.9 L-28.0,121.3 L-29.7,115.6 L-31.4,109.9 L-33.0,104.2 L-34.6,98.5 L-36.1,92.8 L-37.7,87.1 L-39.1,81.4 L-40.6,75.7 L-42.0,70.0 L-43.4,64.4" class="ma"/>
<path d="M461.9,871.4 L461.1,868.2 L460.4,865.0 L459.6,861.7 L458.9,858.5 L458.1,855.3 L456.7,849.6 L455.2,843.9 L453.7,838.2 L452.1,832.5 L450.4,826.8 L448.8,821.1 L447.0,815.5 L445.2,809.8 L443.3,804.1 L441.4,798.4 L439.4,792.7 L437.3,787.0 L435.2,781.3 L433.0,775.6 L430.7,769.9 L428.4,764.2 L426.0,758.6 L423.5,752.9 L421.0,747.2 L418.4,741.5 L415.7,735.8 L412.9,730.1 L410.1,724.4 L407.1,718.7 L404.1,713.0 L401.1,707.3 L397.9,701.7 L394.7,696.0 L391.4,690.3 L388.0,684.6 L384.6,678.9 L381.0,673.2 L377.5,667.5 L373.8,661.8 L370.1,656.1 L366.3,650.4 L362.4,644.8 L358.5,639.1 L354.5,633.4 L350.4,627.7 L346.3,622.0 L342.2,616.3 L338.0,610.6 L333.7,604.9 L329.4,599.2 L325.1,593.5 L320.8,587.8 L316.4,582.2 L311.9,576.5 L307.5,570.8 L303.0,565.1 L298.5,559.4 L294.0,553.7 L289.5,548.0 L285.0,542.3 L280.5,536.6 L276.0,530.9 L271.4,525.3 L266.9,519.6 L262.4,513.9 L257.9,508.2 L253.4,502.5 L248.9,496.8 L244.5,491.1 L240.1,485.4 L235.7,479.7 L231.3,474.0 L226.9,468.4 L222.6,462.7 L218.3,457.0 L214.0,451.3 L209.8,445.6 L205.5,439.9 L201.4,434.2 L197.2,428.5 L193.1,422.8 L189.1,417.1 L185.0,411.5 L181.0,405.8 L177.1,400.1 L173.2,394.4 L169.3,388.7 L165.4,383.0 L161.6,377.3 L157.9,371.6 L154.2,365.9 L150.5,360.2 L146.9,354.6 L143.3,348.9 L139.7,343.2 L136.2,337.5 L132.7,331.8 L129.3,326.1 L125.9,320.4 L122.6,314.7 L119.3,309.0 L116.0,303.3 L112.8,297.6 L109.6,292.0 L106.5,286.3 L103.4,280.6 L100.3,274.9 L97.3,269.2 L94.3,263.5 L91.4,257.8 L88.5,252.1 L85.6,246.4 L82.8,240.7 L80.0,235.1 L77.3,229.4 L74.6,223.7 L72.0,218.0 L69.3,212.3 L66.8,206.6 L64.2,200.9 L61.7,195.2 L59.3,189.5 L56.8,183.8 L54.5,178.2 L52.1,172.5 L49.8,166.8 L47.5,161.1 L45.3,155.4 L43.1,149.7 L40.9,144.0 L38.8,138.3 L36.7,132.6 L34.7,126.9 L32.7,121.3 L30.7,115.6 L28.7,109.9 L26.8,104.2 L25.0,98.5 L23.1,92.8 L21.3,87.1 L19.6,81.4 L17.9,75.7 L16.2,70.0 L14.5,64.4" class="ma"/>
<path d="M509.2,871.4 L508.8,868.2 L508.4,865.0 L508.0,861.7 L507.6,858.5 L507.2,855.3 L506.4,849.6 L505.6,843.9 L504.7,838.2 L503.8,832.5 L502.9,826.8 L501.9,821.1 L500.8,815.5 L499.8,809.8 L498.6,804.1 L497.5,798.4 L496.3,792.7 L495.0,787.0 L493.7,781.3 L492.3,775.6 L490.9,769.9 L489.4,764.2 L487.9,758.6 L486.3,752.9 L484.6,747.2 L482.9,741.5 L481.2,735.8 L479.3,730.1 L477.4,724.4 L475.5,718.7 L473.4,713.0 L471.3,707.3 L469.1,701.7 L466.9,696.0 L464.6,690.3 L462.2,684.6 L459.7,678.9 L457.2,673.2 L454.6,667.5 L451.9,661.8 L449.1,656.1 L446.3,650.4 L443.3,644.8 L440.3,639.1 L437.3,633.4 L434.1,627.7 L430.9,622.0 L427.6,616.3 L424.2,610.6 L420.7,604.9 L417.2,599.2 L413.6,593.5 L409.9,587.8 L406.2,582.2 L402.4,576.5 L398.5,570.8 L394.6,565.1 L390.6,559.4 L386.6,553.7 L382.5,548.0 L378.4,542.3 L374.2,536.6 L369.9,530.9 L365.7,525.3 L361.4,519.6 L357.1,513.9 L352.7,508.2 L348.3,502.5 L343.9,496.8 L339.5,491.1 L335.1,485.4 L330.7,479.7 L326.2,474.0 L321.8,468.4 L317.4,462.7 L312.9,457.0 L308.5,451.3 L304.1,445.6 L299.7,439.9 L295.3,434.2 L290.9,428.5 L286.6,422.8 L282.2,417.1 L277.9,411.5 L273.6,405.8 L269.4,400.1 L265.1,394.4 L260.9,388.7 L256.8,383.0 L252.6,377.3 L248.5,371.6 L244.5,365.9 L240.4,360.2 L236.4,354.6 L232.5,348.9 L228.5,343.2 L224.7,337.5 L220.8,331.8 L217.0,326.1 L213.2,320.4 L209.5,314.7 L205.8,309.0 L202.2,303.3 L198.6,297.6 L195.0,292.0 L191.5,286.3 L188.0,280.6 L184.5,274.9 L181.1,269.2 L177.8,263.5 L174.5,257.8 L171.2,252.1 L167.9,246.4 L164.7,240.7 L161.6,235.1 L158.5,229.4 L155.4,223.7 L152.4,218.0 L149.4,212.3 L146.4,206.6 L143.5,200.9 L140.6,195.2 L137.8,189.5 L135.0,183.8 L132.2,178.2 L129.5,172.5 L126.9,166.8 L124.2,161.1 L121.6,155.4 L119.1,149.7 L116.6,144.0 L114.1,138.3 L111.6,132.6 L109.2,126.9 L106.9,121.3 L104.5,115.6 L102.2,109.9 L100.0,104.2 L97.8,98.5 L95.6,92.8 L93.5,87.1 L91.4,81.4 L89.3,75.7 L87.3,70.0 L85.3,64.4" class="ma"/>
<path d="M556.8,871.4 L556.7,868.2 L556.6,865.0 L556.5,861.7 L556.4,858.5 L556.3,855.3 L556.1,849.6 L555.8,843.9 L555.6,838.2 L555.3,832.5 L554.9,826.8 L554.6,821.1 L554.2,815.5 L553.8,809.8 L553.4,804.1 L552.9,798.4 L552.4,792.7 L551.9,787.0 L551.3,781.3 L550.7,775.6 L550.0,769.9 L549.4,764.2 L548.6,758.6 L547.9,752.9 L547.1,747.2 L546.2,741.5 L545.3,735.8 L544.4,730.1 L543.4,724.4 L542.4,718.7 L541.3,713.0 L540.2,707.3 L539.0,701.7 L537.8,696.0 L536.5,690.3 L535.2,684.6 L533.8,678.9 L532.3,673.2 L530.8,667.5 L529.2,661.8 L527.6,656.1 L525.8,650.4 L524.1,644.8 L522.2,639.1 L520.3,633.4 L518.3,627.7 L516.3,622.0 L514.2,616.3 L512.0,610.6 L509.7,604.9 L507.3,599.2 L504.9,593.5 L502.4,587.8 L499.8,582.2 L497.2,576.5 L494.4,570.8 L491.6,565.1 L488.7,559.4 L485.7,553.7 L482.7,548.0 L479.5,542.3 L476.3,536.6 L473.0,530.9 L469.7,525.3 L466.2,519.6 L462.7,513.9 L459.1,508.2 L455.5,502.5 L451.8,496.8 L448.0,491.1 L444.2,485.4 L440.3,479.7 L436.3,474.0 L432.3,468.4 L428.3,462.7 L424.2,457.0 L420.0,451.3 L415.9,445.6 L411.6,439.9 L407.4,434.2 L403.2,428.5 L398.9,422.8 L394.6,417.1 L390.3,411.5 L385.9,405.8 L381.6,400.1 L377.2,394.4 L372.9,388.7 L368.6,383.0 L364.2,377.3 L359.9,371.6 L355.6,365.9 L351.3,360.2 L347.0,354.6 L342.7,348.9 L338.5,343.2 L334.3,337.5 L330.1,331.8 L325.9,326.1 L321.7,320.4 L317.6,314.7 L313.5,309.0 L309.5,303.3 L305.5,297.6 L301.5,292.0 L297.5,286.3 L293.6,280.6 L289.7,274.9 L285.9,269.2 L282.1,263.5 L278.3,257.8 L274.6,252.1 L270.9,246.4 L267.2,240.7 L263.6,235.1 L260.0,229.4 L256.5,223.7 L253.0,218.0 L249.5,212.3 L246.1,206.6 L242.8,200.9 L239.4,195.2 L236.1,189.5 L232.9,183.8 L229.7,178.2 L226.5,172.5 L223.4,166.8 L220.3,161.1 L217.3,155.4 L214.3,149.7 L211.3,144.0 L208.4,138.3 L205.5,132.6 L202.7,126.9 L199.9,121.3 L197.1,115.6 L194.4,109.9 L191.7,104.2 L189.0,98.5 L186.4,92.8 L183.9,87.1 L181.3,81.4 L178.8,75.7 L176.4,70.0 L174.0,64.4" class="ma"/>
<path d="M604.6,871.4 L604.7,868.2 L604.9,865.0 L605.1,861.7 L605.2,858.5 L605.4,855.3 L605.7,849.6 L605.9,843.9 L606.2,838.2 L606.4,832.5 L606.6,826.8 L606.8,821.1 L607.0,815.5 L607.1,809.8 L607.3,804.1 L607.4,798.4 L607.5,792.7 L607.6,787.0 L607.7,781.3 L607.7,775.6 L607.7,769.9 L607.7,764.2 L607.7,758.6 L607.7,752.9 L607.6,747.2 L607.5,741.5 L607.4,735.8 L607.2,730.1 L607.0,724.4 L606.8,718.7 L606.6,713.0 L606.3,707.3 L606.0,701.7 L605.7,696.0 L605.3,690.3 L604.9,684.6 L604.5,678.9 L604.0,673.2 L603.5,667.5 L602.9,661.8 L602.3,656.1 L601.7,650.4 L601.0,644.8 L600.3,639.1 L599.5,633.4 L598.7,627.7 L597.8,622.0 L596.9,616.3 L595.9,610.6 L594.9,604.9 L593.8,599.2 L592.7,593.5 L591.5,587.8 L590.2,582.2 L588.9,576.5 L587.5,570.8 L586.1,565.1 L584.6,559.4 L583.0,553.7 L581.4,548.0 L579.7,542.3 L577.9,536.6 L576.1,530.9 L574.1,525.3 L572.1,519.6 L570.1,513.9 L567.9,508.2 L565.7,502.5 L563.4,496.8 L561.0,491.1 L558.5,485.4 L556.0,479.7 L553.4,474.0 L550.7,468.4 L547.9,462.7 L545.0,457.0 L542.0,451.3 L539.0,445.6 L535.9,439.9 L532.7,434.2 L529.5,428.5 L526.1,422.8 L522.7,417.1 L519.2,411.5 L515.7,405.8 L512.0,400.1 L508.4,394.4 L504.6,388.7 L500.8,383.0 L497.0,377.3 L493.1,371.6 L489.1,365.9 L485.1,360.2 L481.1,354.6 L477.0,348.9 L472.9,343.2 L468.8,337.5 L464.6,331.8 L460.4,326.1 L456.2,320.4 L452.0,314.7 L447.8,309.0 L443.6,303.3 L439.3,297.6 L435.1,292.0 L430.9,286.3 L426.7,280.6 L422.5,274.9 L418.3,269.2 L414.1,263.5 L410.0,257.8 L405.8,252.1 L401.7,246.4 L397.6,240.7 L393.5,235.1 L389.5,229.4 L385.5,223.7 L381.5,218.0 L377.5,212.3 L373.6,206.6 L369.7,200.9 L365.9,195.2 L362.1,189.5 L358.3,183.8 L354.6,178.2 L350.9,172.5 L347.2,166.8 L343.6,161.1 L340.0,155.4 L336.4,149.7 L332.9,144.0 L329.4,138.3 L326.0,132.6 L322.6,126.9 L319.3,121.3 L315.9,115.6 L312.7,109.9 L309.4,104.2 L306.2,98.5 L303.1,92.8 L300.0,87.1 L296.9,81.4 L293.9,75.7 L290.9,70.0 L288.0,64.4" class="ma"/>
<path d="M652.5,871.4 L652.9,868.2 L653.3,865.0 L653.7,861.7 L654.1,858.5 L654.5,855.3 L655.2,849.6 L655.8,843.9 L656.5,838.2 L657.2,832.5 L657.8,826.8 L658.5,821.1 L659.1,815.5 L659.7,809.8 L660.3,804.1 L660.9,798.4 L661.5,792.7 L662.1,787.0 L662.7,781.3 L663.3,775.6 L663.8,769.9 L664.4,764.2 L664.9,758.6 L665.5,752.9 L666.0,747.2 L666.5,741.5 L667.0,735.8 L667.4,730.1 L667.9,724.4 L668.3,718.7 L668.8,713.0 L669.2,707.3 L669.6,701.7 L670.0,696.0 L670.3,690.3 L670.7,684.6 L671.0,678.9 L671.3,673.2 L671.6,667.5 L671.8,661.8 L672.1,656.1 L672.3,650.4 L672.5,644.8 L672.7,639.1 L672.8,633.4 L672.9,627.7 L673.0,622.0 L673.1,616.3 L673.1,610.6 L673.1,604.9 L673.1,599.2 L673.1,593.5 L673.0,587.8 L672.9,582.2 L672.7,576.5 L672.5,570.8 L672.3,565.1 L672.1,559.4 L671.8,553.7 L671.4,548.0 L671.0,542.3 L670.6,536.6 L670.2,530.9 L669.7,525.3 L669.1,519.6 L668.5,513.9 L667.9,508.2 L667.2,502.5 L666.4,496.8 L665.6,491.1 L664.7,485.4 L663.8,479.7 L662.9,474.0 L661.8,468.4 L660.7,462.7 L659.6,457.0 L658.4,451.3 L657.1,445.6 L655.7,439.9 L654.3,434.2 L652.8,428.5 L651.3,422.8 L649.6,417.1 L647.9,411.5 L646.1,405.8 L644.3,400.1 L642.3,394.4 L640.3,388.7 L638.2,383.0 L636.0,377.3 L633.7,371.6 L631.4,365.9 L629.0,360.2 L626.4,354.6 L623.8,348.9 L621.2,343.2 L618.4,337.5 L615.6,331.8 L612.6,326.1 L609.6,320.4 L606.5,314.7 L603.4,309.0 L600.1,303.3 L596.8,297.6 L593.4,292.0 L589.9,286.3 L586.4,280.6 L582.8,274.9 L579.2,269.2 L575.5,263.5 L571.7,257.8 L567.9,252.1 L564.1,246.4 L560.2,240.7 L556.2,235.1 L552.3,229.4 L548.3,223.7 L544.3,218.0 L540.2,212.3 L536.2,206.6 L532.1,200.9 L528.0,195.2 L523.9,189.5 L519.8,183.8 L515.8,178.2 L511.7,172.5 L507.6,166.8 L503.5,161.1 L499.5,155.4 L495.4,149.7 L491.4,144.0 L487.4,138.3 L483.4,132.6 L479.5,126.9 L475.5,121.3 L471.6,115.6 L467.8,109.9 L463.9,104.2 L460.1,98.5 L456.3,92.8 L452.6,87.1 L448.9,81.4 L445.2,75.7 L441.5,70.0 L437.9,64.4" class="ma"/>
<path d="M78.5,871.4 L93.4,849.8 L109.3,826.7 L126.5,801.9 L145.0,775.2 L165.2,746.2 L187.3,714.6 L211.8,679.8" class="mr"/>
<path d="M181.1,871.4 L195.3,849.8 L210.6,826.7 L227.0,801.9 L244.7,775.2 L264.1,746.2 L285.3,714.6 L308.7,679.8" class="mr"/>
<path d="M265.4,871.4 L279.1,849.8 L293.8,826.7 L309.5,801.9 L326.6,775.2 L345.2,746.2 L365.6,714.6 L388.2,679.8" class="mr"/>
<path d="M356.2,871.4 L369.3,849.8 L383.2,826.7 L398.3,801.9 L414.6,775.2 L432.4,746.2 L451.9,714.6 L473.6,679.8" class="mr"/>
<path d="M434.6,871.4 L447.0,849.8 L460.4,826.7 L474.8,801.9 L490.5,775.2 L507.5,746.2 L526.3,714.6 L547.1,679.8" class="mr"/>
<path d="M487.0,871.4 L499.0,849.8 L512.0,826.7 L526.0,801.9 L541.2,775.2 L557.7,746.2 L576.0,714.6 L596.2,679.8" class="mr"/>
<path d="M559.0,871.4 L570.5,849.8 L582.9,826.7 L596.2,801.9 L610.8,775.2 L626.6,746.2 L644.1,714.6 L663.6,679.8" class="mr"/>
<path d="M623.7,871.4 L634.7,849.8 L646.6,826.7 L659.4,801.9 L673.3,775.2 L688.5,746.2 L705.3,714.6 L724.0,679.8" class="mr"/>
<path d="M671.0,871.4 L681.7,849.8 L693.1,826.7 L705.5,801.9 L719.0,775.2 L733.7,746.2 L750.0,714.6 L768.2,679.8" class="mr"/>
<path d="M385.6,820.4 L365.4,781.5 L340.0,738.1 L313.9,700.0 L300.0,681.9 L272.4,645.9 L229.7,592.1 L186.0,538.2 L149.0,490.0 L115.0,441.5 L98.5,416.5" stroke="#002554" stroke-width="0.9" fill="none"/>
<path d="M391.6,827.1 L389.4,819.7 L396.8,811.4 L404.3,801.7 L407.0,793.5 L405.8,786.7 L402.8,776.3 L412.5,769.1 L429.7,762.8 L452.2,753.5 L462.3,744.4 L456.7,734.7 L444.7,723.9 L431.2,711.2 L422.3,700.0 L406.2,682.6 L411.0,666.9 L404.7,651.2 L389.7,624.3 L381.5,607.9 L372.5,586.9 L363.5,560.0 L358.2,539.7 L354.4,530.7 L338.7,497.8 L323.8,469.4 L305.8,439.4 L295.3,420.0 L276.0,382.5 L267.8,332.6 L315.5,279.9 L401.5,227.1 L473.3,173.9 L530.3,120.3 L580.3,65.3 L581.2,64.3" stroke="#ff0000" stroke-width="2.2" fill="none" stroke-linejoin="round"/>
<path d="M383.4,827.1 L381.9,820.4 L378.9,815.2 L377.4,808.4 L375.9,806.2 L363.9,798.0 L362.4,793.9 L365.4,789.0 L364.7,783.0 L369.9,777.0 L388.6,769.5 L390.1,762.1 L399.1,746.4 L400.1,732.2 L402.8,723.2 L414.8,711.2 L418.0,699.5 L405.4,683.4 L383.8,668.4 L361.3,650.5 L347.9,631.8 L338.1,609.4 L332.2,588.4 L322.0,560.0 L308.1,532.9 L299.8,521.7 L256.5,466.4 L249.0,449.9 L240.0,432.0 L234.1,420.0 L220.7,382.5 L213.6,332.6 L222.1,290.0 L225.8,232.0 L229.5,219.7 L250.4,175.5 L256.5,168.1 L359.7,64.9 L360.3,64.3" stroke="#008000" stroke-width="2.2" fill="none" stroke-linejoin="round"/>
</g>
<rect x="365.1" y="820.8" width="41.8" height="4.2" fill="#ffa500"/>
<text x="425" y="834.6" class="t10">Mon-MDT</text>
<path d="M98.46,63.849999999999994 V871.9499999999999" class="tk" stroke-width="1.2"/>
<path d="M97.96,871.4 H638.9499999999999" class="tk"/>
<path d="M93.56,64.35 H98.46" class="tk"/>
<text x="87.6" y="69.60" text-anchor="end" class="t10">100</text>
<path d="M93.56,302.45 H98.46" class="tk"/>
<text x="87.6" y="307.70" text-anchor="end" class="t10">200</text>
<path d="M93.56,441.72 H98.46" class="tk"/>
<text x="87.6" y="446.97" text-anchor="end" class="t10">300</text>
<path d="M93.56,540.54 H98.46" class="tk"/>
<text x="87.6" y="545.79" text-anchor="end" class="t10">400</text>
<path d="M93.56,617.19 H98.46" class="tk"/>
<text x="87.6" y="622.44" text-anchor="end" class="t10">500</text>
<path d="M93.56,679.82 H98.46" class="tk"/>
<text x="87.6" y="685.07" text-anchor="end" class="t10">600</text>
<path d="M93.56,732.77 H98.46" class="tk"/>
<text x="87.6" y="738.02" text-anchor="end" class="t10">700</text>
<path d="M93.56,778.64 H98.46" class="tk"/>
<text x="87.6" y="783.89" text-anchor="end" class="t10">800</text>
<path d="M93.56,819.10 H98.46" class="tk"/>
<text x="87.6" y="824.35" text-anchor="end" class="t10">900</text>
<path d="M93.56,855.29 H98.46" class="tk"/>
<text x="87.6" y="860.54" text-anchor="end" class="t10">1000</text>
<path d="M147.40,871.4 V876.30" class="tk"/>
<text x="146.70" y="891.9" text-anchor="middle" class="t10">−20</text>
<path d="M245.60,871.4 V876.30" class="tk"/>
<text x="244.90" y="891.9" text-anchor="middle" class="t10">−10</text>
<path d="M343.80,871.4 V876.30" class="tk"/>
<text x="343.10" y="891.9" text-anchor="middle" class="t10">0</text>
<path d="M442.00,871.4 V876.30" class="tk"/>
<text x="441.30" y="891.9" text-anchor="middle" class="t10">10</text>
<path d="M540.20,871.4 V876.30" class="tk"/>
<text x="539.50" y="891.9" text-anchor="middle" class="t10">20</text>
<path d="M638.40,871.4 V876.30" class="tk"/>
<text x="637.70" y="891.9" text-anchor="middle" class="t10">30</text>
<text x="367.6" y="911.5" text-anchor="middle" class="t10">Temperature (℃)</text>
<text transform="translate(43.2,469.2) rotate(-90)" text-anchor="middle" class="t10">Isobaric Height (hPa)</text>
<circle cx="457.7" cy="871.4" r="22.3" fill="#fff" stroke="#b8b8b8" stroke-width="0.8"/>
<path d="M458.2,850 V886" stroke="#002554" stroke-width="1.4"/>
<path d="M638.3,67.3 L605.9,57.0 L614.1,45.3 L614.0,59.6Z" class="b"/>
<path d="M638.3,120.7 L605.8,110.5 L614.0,98.8 L613.9,113.1 L618.0,114.3 L618.0,107.2 L618.0,114.3Z" class="b"/>
<path d="M638.3,174.0 L606.9,161.0 L616.0,150.0 L614.7,164.2 L618.7,165.8 L619.3,158.7 L618.7,165.8Z" class="b"/>
<path d="M638.3,227.4 L608.0,211.9 L618.0,201.7 L615.6,215.8 L619.4,217.7 L621.8,203.6 L619.4,217.7 L623.2,219.6 L624.4,212.6 L623.2,219.6Z" class="b"/>
<path d="M638.3,280.8 L607.9,265.6 L617.8,255.3 L615.5,269.4 L619.3,271.3 L621.6,257.2 L619.3,271.3 L623.1,273.2 L624.2,266.2 L623.1,273.2Z" class="b"/>
<path d="M638.3,332.7 L608.2,316.9 L618.3,306.8 L615.7,320.8 L619.5,322.8 L622.0,308.8 L619.5,322.8 L623.2,324.8 L625.8,310.8 L623.2,324.8Z" class="b"/>
<path d="M638.3,381.2 L608.4,364.9 L618.7,355.0 L615.9,369.0 L619.6,371.0 L622.4,357.0 L619.6,371.0 L623.4,373.1 L626.1,359.1 L623.4,373.1 L627.1,375.1 L628.5,368.1 L627.1,375.1Z" class="b"/>
<path d="M638.3,425.9 L608.9,408.8 L619.4,399.2 L616.2,413.1 L619.9,415.2 L623.1,401.3 L619.9,415.2 L623.6,417.3 L626.8,403.4 L623.6,417.3 L627.3,419.5 L628.8,412.5 L627.3,419.5Z" class="b"/>
<path d="M638.3,465.5 L608.9,448.3 L619.5,438.7 L616.3,452.6 L619.9,454.8 L623.1,440.9 L619.9,454.8 L623.6,456.9 L626.8,443.0 L623.6,456.9Z" class="b"/>
<path d="M638.3,500.7 L609.5,482.6 L620.3,473.4 L616.7,487.2 L620.3,489.4 L623.9,475.6 L620.3,489.4 L623.9,491.7 L627.5,477.9 L623.9,491.7Z" class="b"/>
<path d="M638.3,532.1 L609.2,514.4 L619.9,505.0 L616.5,518.9 L620.1,521.1 L623.5,507.2 L620.1,521.1 L623.8,523.3 L625.5,516.4 L623.8,523.3Z" class="b"/>
<path d="M638.3,561.2 L609.4,543.2 L620.2,533.9 L616.6,547.7 L620.3,549.9 L623.8,536.1 L620.3,549.9Z" class="b"/>
<path d="M638.3,587.4 L609.2,569.8 L619.9,560.3 L616.5,574.2Z" class="b"/>
<path d="M638.3,610.9 L608.5,594.4 L611.4,580.4 L608.5,594.4 L612.3,596.4 L615.2,582.5 L612.3,596.4 L616.0,598.5 L618.9,584.5 L616.0,598.5 L619.7,600.6 L622.6,586.6 L619.7,600.6 L623.4,602.6 L624.9,595.7 L623.4,602.6Z" class="b"/>
<path d="M638.3,650.4 L608.5,633.9 L611.4,619.9 L608.5,633.9 L612.3,635.9 L615.2,622.0 L612.3,635.9 L616.0,638.0 L618.9,624.0 L616.0,638.0 L619.7,640.1 L622.6,626.1 L619.7,640.1Z" class="b"/>
<path d="M638.3,684.0 L604.8,678.1 L603.0,663.9 L604.8,678.1 L609.0,678.8 L607.2,664.7 L609.0,678.8 L613.2,679.6 L612.3,672.5 L613.2,679.6Z" class="b"/>
<path d="M638.3,711.5 L604.5,707.4 L601.9,693.4 L604.5,707.4 L608.7,707.9 L606.1,693.9 L608.7,707.9Z" class="b"/>
<path d="M638.3,734.4 L604.6,738.9 L598.6,725.9 L604.6,738.9 L608.8,738.3 L602.8,725.4 L608.8,738.3 L613.0,737.7 L610.0,731.3 L613.0,737.7Z" class="b"/>
<path d="M638.3,753.5 L616.8,779.9 L603.6,774.6 L616.8,779.9 L619.5,776.6 L606.2,771.3 L619.5,776.6 L622.2,773.3 L615.5,770.6 L622.2,773.3Z" class="b"/>
<path d="M638.3,769.1 L638.3,803.1 L638.3,796.7 L631.5,798.9 L638.3,796.7Z" class="b"/>
<path d="M638.3,782.5 L663.6,805.2 L657.7,818.2 L663.6,805.2Z" class="b"/>
<path d="M638.3,793.6 L668.5,809.3 L666.0,823.3 L668.5,809.3Z" class="b"/>
<path d="M638.3,802.6 L666.3,821.9 L662.1,835.5 L666.3,821.9Z" class="b"/>
<path d="M638.3,810.6 L666.7,829.3 L662.8,843.0 L666.7,829.3 L663.2,827.0 L659.2,840.7 L663.2,827.0Z" class="b"/>
<path d="M638.3,817.2 L670.8,827.4 L670.7,841.7 L670.8,827.4Z" class="b"/>
<path d="M638.3,822.9 L672.3,823.9 L676.1,837.6 L672.3,823.9Z" class="b"/>
<path d="M638.3,827.0 L671.5,819.6 L665.3,821.0 L668.8,827.2 L665.3,821.0Z" class="b"/>
<path d="M99.05999999999999,65.25 H638.4" stroke="#f6f6f6" stroke-width="1.1"/>
<text x="205.8" y="85.85" text-anchor="end" class="t10">LCL Height:</text><text x="209.5" y="85.85" class="t10">891.0 m</text>
<text x="205.8" y="103.84" text-anchor="end" class="t10">LFC Height:</text><text x="209.5" y="103.84" class="t10">nan m</text>
<text x="205.8" y="121.83" text-anchor="end" class="t10">MLLR:</text><text x="209.5" y="121.83" class="t10">7.3 K</text>
<text x="205.8" y="139.82" text-anchor="end" class="t10">SBCAPE:</text><text x="209.5" y="139.82" class="t10">0.0 J/kg</text>
<text x="205.8" y="157.81" text-anchor="end" class="t10">SBCIN:</text><text x="209.5" y="157.81" class="t10">0.0 J/kg</text>
<text x="205.8" y="175.80" text-anchor="end" class="t10">MLCAPE:</text><text x="209.5" y="175.80" class="t10">0.0 J/kg</text>
<text x="205.8" y="193.79" text-anchor="end" class="t10">MLCIN:</text><text x="209.5" y="193.79" class="t10">0.0 J/kg</text>
<text x="205.8" y="211.78" text-anchor="end" class="t10">MUCAPE:</text><text x="209.5" y="211.78" class="t10">2.3 J/kg</text>
<text x="205.8" y="229.77" text-anchor="end" class="t10">Shear 0-1 km:</text><text x="209.5" y="229.77" class="t10">3.3 m/s</text>
<text x="205.8" y="247.76" text-anchor="end" class="t10">Shear 0-6 km:</text><text x="209.5" y="247.76" class="t10">32.5 m/s</text>
<text x="205.8" y="265.75" text-anchor="end" class="t10">SRH 0-1 km:</text><text x="209.5" y="265.75" class="t10">-53.7 m²/s²</text>
<text x="205.8" y="283.74" text-anchor="end" class="t10">SRH 0-3 km:</text><text x="209.5" y="283.74" class="t10">-65.7 m²/s²</text>
<text x="0.5" y="20.8" style="font-size:25.03px">Rapid City, NEXRAD, SD; Model Run 2026-04-05 12 UTC; WRF Domain 02</text>
<text x="367.9" y="55.6" text-anchor="middle" style="font-size:20.83px;white-space:pre" xml:space="preserve">2026-04-06 12 UTC  (2026-04-06 06 MDT)</text>
<g clip-path="url(#hx)">
<circle cx="818.10" cy="176.9" r="23.62" class="ring"/>
<circle cx="818.10" cy="176.9" r="47.25" class="ring"/>
<circle cx="818.10" cy="176.9" r="70.88" class="ring"/>
<circle cx="818.10" cy="176.9" r="94.50" class="ring"/>
<circle cx="818.10" cy="176.9" r="118.12" class="ring"/>
<circle cx="818.10" cy="176.9" r="141.75" class="ring"/>
<circle cx="818.10" cy="176.9" r="165.38" class="ring"/>
<circle cx="818.10" cy="176.9" r="189.00" class="ring"/>
<path d="M723.6,176.9 H912.60" class="cross"/>
<path d="M818.10,271.40 V82.40" class="cross"/>
<path d="M809.3,178.3 L806.8,177.2" stroke="#000082" stroke-width="4.1" stroke-linecap="butt" fill="none"/>
<path d="M806.8,177.2 L804.4,176.2" stroke="#000088" stroke-width="4.1" stroke-linecap="butt" fill="none"/>
<path d="M804.4,176.2 L802.0,174.1" stroke="#00008e" stroke-width="4.1" stroke-linecap="butt" fill="none"/>
<path d="M802.0,174.1 L799.5,171.9" stroke="#000094" stroke-width="4.1" stroke-linecap="butt" fill="none"/>
<path d="M799.5,171.9 L797.4,167.6" stroke="#00009c" stroke-width="4.1" stroke-linecap="butt" fill="none"/>
<path d="M797.4,167.6 L799.1,164.4" stroke="#0000a8" stroke-width="4.1" stroke-linecap="butt" fill="none"/>
<path d="M799.1,164.4 L802.3,167.6" stroke="#0000b4" stroke-width="4.1" stroke-linecap="butt" fill="none"/>
<path d="M802.3,167.6 L805.5,169.2" stroke="#0000bf" stroke-width="4.1" stroke-linecap="butt" fill="none"/>
<path d="M805.5,169.2 L808.7,170.8" stroke="#0000cb" stroke-width="4.1" stroke-linecap="butt" fill="none"/>
<path d="M808.7,170.8 L811.5,169.9" stroke="#0000d4" stroke-width="4.1" stroke-linecap="butt" fill="none"/>
<path d="M811.5,169.9 L814.4,168.9" stroke="#0000dc" stroke-width="4.1" stroke-linecap="butt" fill="none"/>
<path d="M814.4,168.9 L817.2,168.0" stroke="#0000e4" stroke-width="4.1" stroke-linecap="butt" fill="none"/>
<path d="M817.2,168.0 L819.1,165.8" stroke="#0000eb" stroke-width="4.1" stroke-linecap="butt" fill="none"/>
<path d="M819.1,165.8 L821.0,163.6" stroke="#0000f2" stroke-width="4.1" stroke-linecap="butt" fill="none"/>
<path d="M821.0,163.6 L823.0,161.3" stroke="#0000f9" stroke-width="4.1" stroke-linecap="butt" fill="none"/>
<path d="M823.0,161.3 L824.9,159.1" stroke="#0000ff" stroke-width="4.1" stroke-linecap="butt" fill="none"/>
<path d="M824.9,159.1 L826.8,156.9" stroke="#0000ff" stroke-width="4.1" stroke-linecap="butt" fill="none"/>
<path d="M826.8,156.9 L829.6,155.7" stroke="#0000ff" stroke-width="4.1" stroke-linecap="butt" fill="none"/>
<path d="M829.6,155.7 L832.3,154.6" stroke="#0006ff" stroke-width="4.1" stroke-linecap="butt" fill="none"/>
<path d="M832.3,154.6 L835.1,153.4" stroke="#000eff" stroke-width="4.1" stroke-linecap="butt" fill="none"/>
<path d="M835.1,153.4 L837.9,152.2" stroke="#0016ff" stroke-width="4.1" stroke-linecap="butt" fill="none"/>
<path d="M837.9,152.2 L839.5,154.5" stroke="#001dff" stroke-width="4.1" stroke-linecap="butt" fill="none"/>
<path d="M839.5,154.5 L841.2,156.8" stroke="#0023ff" stroke-width="4.1" stroke-linecap="butt" fill="none"/>
<path d="M841.2,156.8 L842.8,159.2" stroke="#0029ff" stroke-width="4.1" stroke-linecap="butt" fill="none"/>
<path d="M842.8,159.2 L844.5,161.5" stroke="#002fff" stroke-width="4.1" stroke-linecap="butt" fill="none"/>
<path d="M844.5,161.5 L846.1,163.8" stroke="#0035ff" stroke-width="4.1" stroke-linecap="butt" fill="none"/>
<path d="M846.1,163.8 L845.9,166.5" stroke="#003cff" stroke-width="4.1" stroke-linecap="butt" fill="none"/>
<path d="M845.9,166.5 L845.8,169.2" stroke="#0042ff" stroke-width="4.1" stroke-linecap="butt" fill="none"/>
<path d="M845.8,169.2 L845.6,171.9" stroke="#0049ff" stroke-width="4.1" stroke-linecap="butt" fill="none"/>
<path d="M845.6,171.9 L845.0,175.3" stroke="#0052ff" stroke-width="4.1" stroke-linecap="butt" fill="none"/>
<path d="M845.0,175.3 L844.4,178.7" stroke="#005cff" stroke-width="4.1" stroke-linecap="butt" fill="none"/>
<path d="M844.4,178.7 L846.8,181.1" stroke="#0073ff" stroke-width="4.1" stroke-linecap="butt" fill="none"/>
<path d="M846.8,181.1 L849.3,183.6" stroke="#0096ff" stroke-width="4.1" stroke-linecap="butt" fill="none"/>
<path d="M849.3,183.6 L850.3,186.0" stroke="#00b1ff" stroke-width="4.1" stroke-linecap="butt" fill="none"/>
<path d="M850.3,186.0 L851.4,188.4" stroke="#00c3ff" stroke-width="4.1" stroke-linecap="butt" fill="none"/>
<path d="M851.4,188.4 L852.5,190.8" stroke="#00d5ff" stroke-width="4.1" stroke-linecap="butt" fill="none"/>
<path d="M852.5,190.8 L853.5,193.2" stroke="#01e7f6" stroke-width="4.1" stroke-linecap="butt" fill="none"/>
<path d="M853.5,193.2 L854.9,195.4" stroke="#10fae6" stroke-width="4.1" stroke-linecap="butt" fill="none"/>
<path d="M854.9,195.4 L856.4,197.5" stroke="#21ffd6" stroke-width="4.1" stroke-linecap="butt" fill="none"/>
<path d="M856.4,197.5 L857.8,199.7" stroke="#31ffc5" stroke-width="4.1" stroke-linecap="butt" fill="none"/>
<path d="M857.8,199.7 L860.2,200.8" stroke="#42ffb5" stroke-width="4.1" stroke-linecap="butt" fill="none"/>
<path d="M860.2,200.8 L862.6,201.8" stroke="#52ffa5" stroke-width="4.1" stroke-linecap="butt" fill="none"/>
<path d="M862.6,201.8 L865.0,202.8" stroke="#63ff94" stroke-width="4.1" stroke-linecap="butt" fill="none"/>
<path d="M865.0,202.8 L867.4,203.9" stroke="#73ff84" stroke-width="4.1" stroke-linecap="butt" fill="none"/>
<path d="M867.4,203.9 L869.3,206.0" stroke="#82ff75" stroke-width="4.1" stroke-linecap="butt" fill="none"/>
<path d="M869.3,206.0 L871.3,208.0" stroke="#8fff68" stroke-width="4.1" stroke-linecap="butt" fill="none"/>
<path d="M871.3,208.0 L873.2,210.1" stroke="#9cff5a" stroke-width="4.1" stroke-linecap="butt" fill="none"/>
<path d="M873.2,210.1 L875.2,212.1" stroke="#a9ff4d" stroke-width="4.1" stroke-linecap="butt" fill="none"/>
<path d="M875.2,212.1 L877.1,214.2" stroke="#b7ff40" stroke-width="4.1" stroke-linecap="butt" fill="none"/>
<path d="M877.1,214.2 L879.4,215.4" stroke="#c4ff33" stroke-width="4.1" stroke-linecap="butt" fill="none"/>
<path d="M879.4,215.4 L881.8,216.5" stroke="#d1ff26" stroke-width="4.1" stroke-linecap="butt" fill="none"/>
<path d="M881.8,216.5 L884.1,217.7" stroke="#deff19" stroke-width="4.1" stroke-linecap="butt" fill="none"/>
<path d="M884.1,217.7 L886.5,218.8" stroke="#ebff0c" stroke-width="4.1" stroke-linecap="butt" fill="none"/>
<path d="M886.5,218.8 L888.8,220.0" stroke="#f8f400" stroke-width="4.1" stroke-linecap="butt" fill="none"/>
<path d="M888.8,220.0 L893.5,221.0" stroke="#ffb300" stroke-width="4.1" stroke-linecap="butt" fill="none"/>
<path d="M893.5,221.0 L898.0,220.0" stroke="#ff3400" stroke-width="4.1" stroke-linecap="butt" fill="none"/>
</g>
<rect x="723.1" y="268.5" width="127.5" height="3.5" fill="#002554"/>
<path d="M723.6,81.90 V271.95" class="tk"/>
<path d="M723.1,271.40 H913.15" class="tk"/>
<path d="M718.70,271.40 H723.6" class="tk"/><text x="714.3" y="277.80" text-anchor="end" class="t10">−40</text>
<path d="M723.60,271.40 v4.9" class="tk"/><text x="723.60" y="291.8" text-anchor="middle" class="t10">−40</text>
<path d="M718.70,224.15 H723.6" class="tk"/><text x="714.3" y="230.55" text-anchor="end" class="t10">−20</text>
<path d="M770.85,271.40 v4.9" class="tk"/><text x="770.85" y="291.8" text-anchor="middle" class="t10">−20</text>
<path d="M718.70,176.90 H723.6" class="tk"/><text x="714.3" y="183.30" text-anchor="end" class="t10">0</text>
<path d="M818.10,271.40 v4.9" class="tk"/><text x="818.10" y="291.8" text-anchor="middle" class="t10">0</text>
<path d="M718.70,129.65 H723.6" class="tk"/><text x="714.3" y="136.05" text-anchor="end" class="t10">20</text>
<path d="M865.35,271.40 v4.9" class="tk"/><text x="865.35" y="291.8" text-anchor="middle" class="t10">20</text>
<path d="M718.70,82.40 H723.6" class="tk"/><text x="714.3" y="88.80" text-anchor="end" class="t10">40</text>
<path d="M912.60,271.40 v4.9" class="tk"/><text x="912.60" y="291.8" text-anchor="middle" class="t10">40</text>
<text x="817.5" y="306.6" text-anchor="middle" class="t10">u (m s<tspan dy="-4.4" style="font-size:9.7px">−1</tspan><tspan dy="4.4">)</tspan></text>
<text transform="translate(680.7,177.4) rotate(-90)" text-anchor="middle" class="t10">v (m s<tspan dy="-4.4" style="font-size:9.7px">−1</tspan><tspan dy="4.4">)</tspan></text>
<rect x="683.2" y="312.1" width="270.2" height="13.5" fill="url(#jet)" stroke="#002554" stroke-width="1.1"/>
<path d="M683.20,325.6 v4.9" class="tk"/><text x="682.60" y="346.3" text-anchor="middle" class="t10">0</text>
<path d="M737.24,325.6 v4.9" class="tk"/><text x="736.64" y="346.3" text-anchor="middle" class="t10">2</text>
<path d="M791.28,325.6 v4.9" class="tk"/><text x="790.68" y="346.3" text-anchor="middle" class="t10">4</text>
<path d="M845.32,325.6 v4.9" class="tk"/><text x="844.72" y="346.3" text-anchor="middle" class="t10">6</text>
<path d="M899.36,325.6 v4.9" class="tk"/><text x="898.76" y="346.3" text-anchor="middle" class="t10">8</text>
<path d="M953.40,325.6 v4.9" class="tk"/><text x="952.80" y="346.3" text-anchor="middle" class="t10">10</text>
<text x="817.5" y="365.8" text-anchor="middle" class="t10">Height (km AGL)</text>
</svg></body></html>
